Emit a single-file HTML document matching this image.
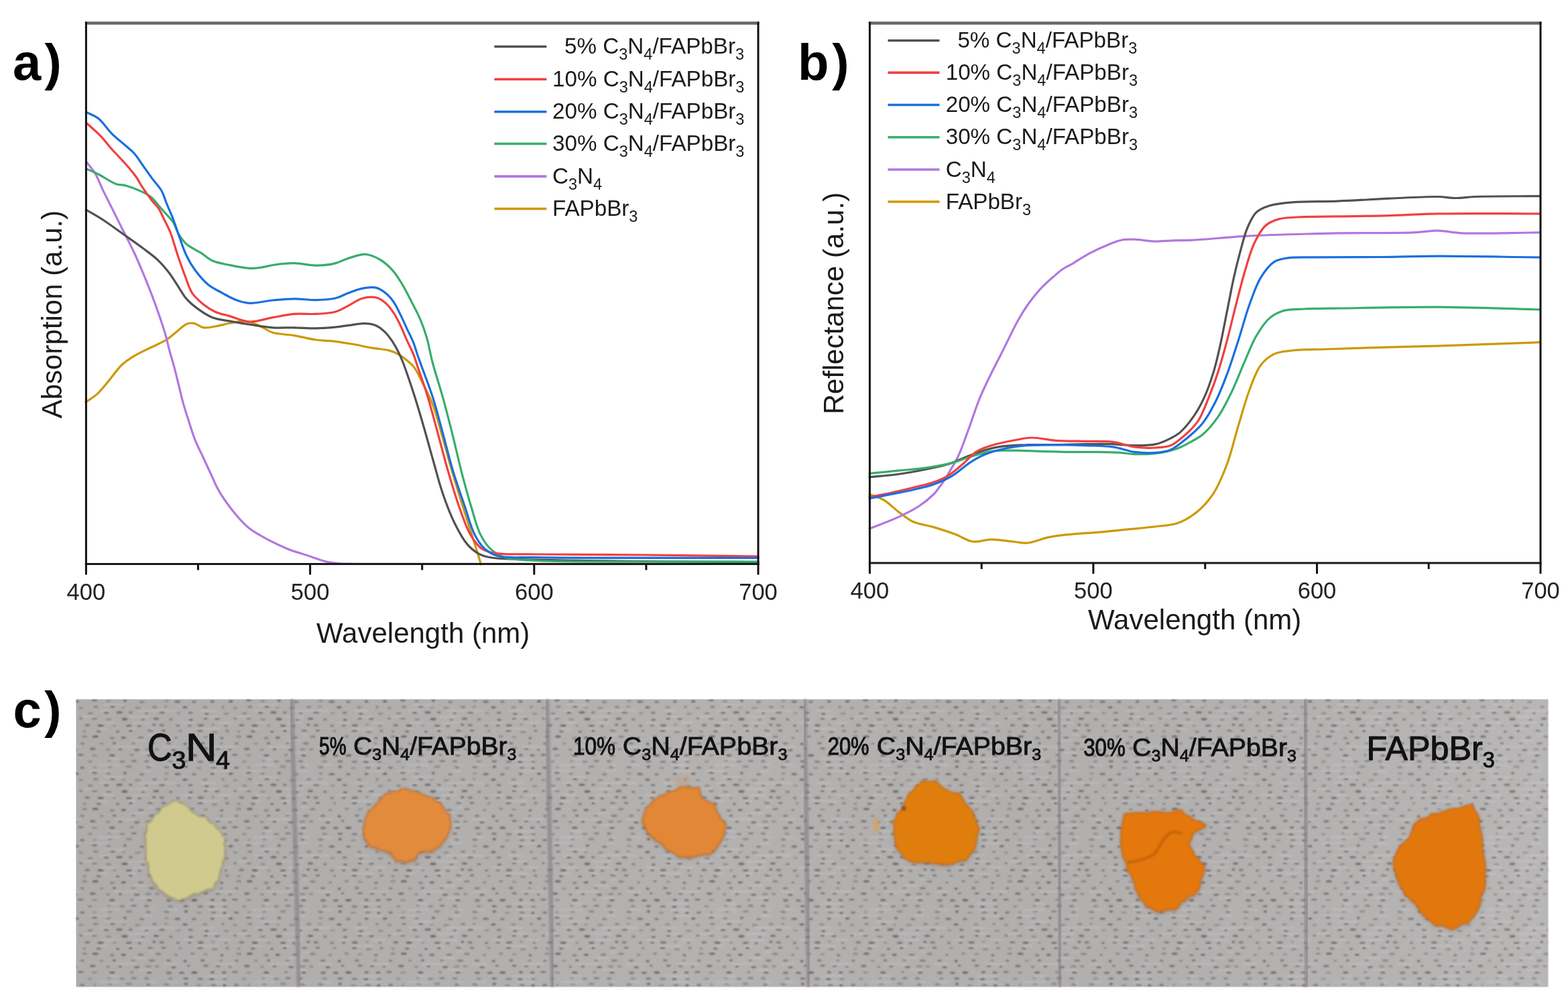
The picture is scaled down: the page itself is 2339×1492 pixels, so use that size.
<!DOCTYPE html>
<html><head><meta charset="utf-8"><title>Figure</title>
<style>html,body{margin:0;padding:0;background:#fff;overflow:hidden}svg{display:block}
text{font-family:"Liberation Sans",Arial,Helvetica,sans-serif}</style></head>
<body>
<svg width="2339" height="1492" viewBox="0 0 2339 1492">
<rect width="2339" height="1492" fill="#fff"/>
<text y="118.7" font-size="76" font-weight="bold" fill="#000"><tspan x="19">a</tspan><tspan x="66.6">)</tspan></text>
<text y="118.7" font-size="76" font-weight="bold" fill="#000"><tspan x="1190">b</tspan><tspan x="1241.3">)</tspan></text>
<text y="1085.2" font-size="76" font-weight="bold" fill="#000"><tspan x="19.5">c</tspan><tspan x="66.2">)</tspan></text>
<g fill="none" stroke-width="3.2" stroke-linejoin="round" stroke-linecap="round">
<path d="M128.0,600.0 C133.7,595.9 139.7,592.6 145.2,587.6 C151.2,582.1 156.5,575.0 162.3,568.1 C168.6,560.7 174.7,551.0 181.6,544.5 C187.7,538.8 194.0,534.8 200.9,530.6 C208.2,526.2 216.6,522.7 224.5,518.8 C232.4,514.9 241.3,511.3 248.1,507.0 C253.9,503.3 258.1,499.1 263.1,495.2 C268.1,491.3 273.3,485.4 278.2,483.4 C281.9,481.9 285.1,481.7 288.9,482.3 C293.6,483.0 298.6,488.0 303.9,488.8 C309.3,489.6 315.0,488.0 321.0,487.0 C327.8,485.9 335.3,483.6 342.5,482.3 C349.6,481.0 357.3,478.8 364.0,479.1 C370.1,479.4 375.7,481.4 381.1,483.4 C386.4,485.4 391.5,488.6 396.1,490.9 C400.0,492.8 402.1,494.9 406.8,496.3 C414.5,498.7 428.3,498.8 439.0,500.6 C449.8,502.4 460.7,505.5 471.2,507.0 C481.0,508.4 490.6,508.4 500.0,509.5 C509.1,510.6 517.9,511.9 526.8,513.5 C535.8,515.1 544.6,517.3 553.6,518.9 C562.5,520.5 573.1,520.9 580.4,522.9 C585.7,524.4 589.5,525.9 593.8,528.3 C598.4,530.8 603.1,534.3 607.2,537.7 C611.1,541.0 614.7,544.0 618.0,548.4 C622.0,553.7 624.8,560.3 628.6,567.9 C633.8,578.1 640.9,591.5 645.8,604.3 C651.0,617.8 654.3,632.1 658.7,647.2 C663.6,664.1 668.6,683.4 673.7,700.9 C678.6,717.7 683.6,734.0 688.7,750.2 C693.7,766.1 699.1,782.9 703.7,797.4 C707.6,809.7 711.9,823.6 714.4,831.7 C715.8,836.1 716.5,838.6 717.5,842.0" stroke="#CC9900"/>
<path d="M128.5,241.0 C132.9,246.8 137.8,251.9 141.8,258.5 C146.3,265.9 149.4,275.1 153.5,283.6 C157.8,292.4 162.6,301.8 166.9,310.4 C170.9,318.5 174.8,326.4 178.6,333.9 C182.1,340.9 185.2,347.0 188.7,354.0 C192.5,361.5 196.6,369.4 200.4,377.5 C204.4,386.1 208.1,394.8 212.1,404.3 C216.5,414.8 221.3,426.5 225.6,437.8 C229.9,449.1 234.2,461.0 238.0,472.0 C241.5,482.1 244.8,492.3 247.4,501.3 C249.5,508.8 250.7,515.0 252.6,522.2 C254.7,530.0 257.3,538.2 259.6,546.6 C262.0,555.6 264.3,565.2 266.6,574.5 C268.9,583.8 270.9,593.1 273.5,602.4 C276.1,611.7 279.2,621.1 282.2,630.2 C285.1,639.1 287.6,647.7 291.0,656.3 C294.5,665.1 299.2,674.1 303.1,682.5 C306.7,690.3 310.1,697.6 313.6,705.1 C317.1,712.6 320.3,720.7 324.0,727.7 C327.4,734.1 330.6,739.2 334.9,745.5 C340.2,753.1 347.2,762.6 353.7,770.0 C359.7,776.9 365.2,783.1 372.5,788.8 C380.6,795.1 391.2,800.6 400.8,805.7 C410.1,810.6 419.5,815.1 429.0,818.9 C438.3,822.6 447.8,825.2 457.2,828.3 C466.6,831.4 476.9,835.7 485.4,837.7 C492.2,839.3 497.4,839.9 504.2,840.5 C512.1,841.2 515.7,841.1 530.0,841.3 C598.8,842.4 930.7,841.3 1131.0,841.3" stroke="#B177DE"/>
<path d="M128.5,313.0 C136.9,318.0 145.0,322.4 153.6,328.0 C163.3,334.3 173.8,342.2 183.8,349.3 C193.8,356.4 204.7,363.9 213.8,370.8 C221.6,376.7 228.8,381.7 235.3,387.9 C241.6,393.9 247.3,400.7 252.4,407.3 C257.2,413.6 261.0,420.2 265.3,426.6 C269.6,433.0 273.2,440.2 278.2,445.9 C283.2,451.6 289.0,456.4 295.3,460.9 C301.9,465.7 309.0,470.7 316.8,473.7 C324.7,476.8 333.4,477.4 342.5,479.1 C352.6,481.0 364.0,482.9 374.7,484.5 C385.4,486.1 396.1,488.1 406.8,488.8 C417.5,489.5 428.3,488.6 439.0,488.8 C449.7,489.0 460.8,489.9 471.2,489.8 C481.1,489.7 491.3,488.9 500.0,488.1 C507.3,487.4 513.2,486.3 520.1,485.4 C527.5,484.5 535.8,482.6 542.9,482.7 C549.1,482.8 555.1,483.3 560.3,485.4 C565.3,487.4 569.7,491.1 573.7,494.8 C577.8,498.6 581.2,503.4 584.5,508.2 C587.9,513.2 591.0,518.9 593.8,524.3 C596.5,529.5 598.2,533.4 600.8,540.0 C605.1,550.7 610.9,568.1 615.8,582.9 C621.0,598.7 625.9,615.4 630.8,632.2 C635.9,649.7 640.8,668.1 645.8,685.8 C650.8,703.2 655.2,721.0 660.8,737.3 C666.0,752.4 671.5,767.2 678.0,780.2 C683.8,792.0 690.3,804.3 697.3,812.4 C702.7,818.6 708.4,823.1 714.4,826.3 C719.9,829.2 723.8,830.3 731.6,831.7 C746.7,834.4 768.6,834.1 800.0,835.0 C869.0,837.1 1020.7,837.7 1131.0,839.0" stroke="#515151"/>
<path d="M129.0,251.9 C134.9,254.6 140.3,256.8 146.8,260.0 C154.9,264.1 166.0,272.1 173.6,274.7 C178.7,276.4 182.1,275.5 187.0,276.7 C193.1,278.2 200.7,281.2 207.1,284.0 C213.2,286.7 219.5,289.4 224.6,293.4 C229.8,297.4 233.8,303.5 238.0,308.2 C241.7,312.3 245.0,316.1 248.4,320.0 C251.7,323.7 255.2,326.7 258.0,331.0 C261.3,336.1 263.0,343.4 266.4,349.0 C269.8,354.5 273.2,359.8 278.2,364.3 C283.9,369.4 292.9,372.9 299.6,377.2 C305.7,381.1 310.2,386.0 316.8,389.0 C324.3,392.4 333.6,393.6 342.5,395.5 C352.1,397.5 363.9,400.0 372.5,400.4 C379.0,400.7 384.0,399.9 389.7,399.1 C395.4,398.3 400.2,396.5 406.8,395.5 C415.8,394.2 428.3,392.6 439.0,392.7 C449.7,392.8 460.8,396.1 471.2,396.1 C481.1,396.1 491.7,394.9 500.0,392.9 C506.6,391.3 510.8,388.2 517.4,386.2 C525.6,383.7 536.9,379.0 545.6,379.5 C553.3,380.0 560.4,383.6 567.0,387.5 C573.9,391.5 580.3,397.4 585.8,403.6 C591.5,409.9 595.9,417.4 600.5,425.0 C605.3,433.0 609.6,441.9 614.0,450.5 C618.5,459.3 623.5,468.2 627.3,477.3 C631.0,486.1 633.9,494.5 636.7,504.2 C639.9,515.2 641.6,526.9 645.0,540.0 C649.2,556.1 655.7,575.3 660.8,593.6 C666.0,612.5 671.1,632.6 675.8,651.5 C680.3,669.7 684.1,687.3 688.7,705.1 C693.4,723.0 698.7,742.4 703.7,758.8 C708.0,772.8 711.2,786.7 716.6,797.4 C720.9,805.9 725.4,813.0 731.6,818.8 C737.6,824.4 744.1,828.7 753.0,831.7 C765.3,835.8 777.2,835.3 800.0,836.5 C860.4,839.7 1020.7,837.5 1131.0,838.0" stroke="#37AD6B"/>
<path d="M129.0,183.5 C136.3,190.2 144.6,197.1 150.8,203.6 C156.0,209.1 159.4,214.3 164.2,219.7 C169.2,225.4 175.2,231.4 180.3,237.0 C185.0,242.1 189.7,247.1 193.7,251.9 C197.2,256.1 200.0,259.5 203.1,264.0 C206.7,269.2 209.9,275.6 213.8,281.4 C217.9,287.6 223.0,294.7 227.2,300.0 C230.5,304.2 233.8,306.8 236.6,311.0 C239.7,315.7 241.9,321.3 244.7,327.0 C247.9,333.5 251.5,340.1 254.6,348.0 C258.4,357.8 261.6,370.7 265.3,381.5 C268.8,391.8 272.3,401.9 276.0,411.5 C279.5,420.5 281.8,430.0 286.7,437.3 C291.3,444.1 297.9,449.6 303.9,454.4 C309.4,458.8 314.8,462.4 321.0,465.2 C327.6,468.2 334.7,469.4 342.5,471.6 C351.7,474.2 362.1,479.5 372.5,480.0 C383.5,480.5 395.5,475.7 406.8,473.7 C417.7,471.8 428.2,469.3 439.0,468.4 C449.7,467.5 460.8,469.0 471.2,468.4 C481.1,467.9 491.4,467.7 500.0,465.3 C507.5,463.2 513.4,459.2 520.1,455.9 C526.8,452.5 533.3,447.2 540.2,445.2 C546.7,443.3 554.3,442.5 560.3,443.8 C565.8,445.0 570.6,448.3 575.0,451.9 C579.6,455.8 583.4,461.1 587.1,466.6 C591.1,472.6 594.6,479.8 597.9,486.7 C601.3,493.7 604.0,501.2 607.2,508.2 C610.3,515.0 613.8,521.4 616.6,528.3 C619.4,535.3 621.2,541.7 624.0,550.0 C627.8,561.2 632.8,575.1 637.2,589.3 C642.3,605.7 647.2,624.9 652.2,643.0 C657.2,661.4 661.9,680.2 667.2,698.7 C672.6,717.3 678.3,737.2 684.4,754.5 C689.8,769.9 694.9,785.9 701.6,797.4 C706.7,806.2 712.1,814.1 718.7,818.8 C724.4,822.8 729.6,823.8 738.0,825.3 C752.7,827.9 774.5,826.6 800.0,827.0 C840.9,827.7 905.8,827.5 960.0,828.0 C1016.1,828.5 1074.0,829.3 1131.0,830.0" stroke="#F14040"/>
<path d="M129.0,167.4 C134.9,170.5 141.1,172.3 146.8,176.8 C153.8,182.3 160.0,192.7 166.9,199.6 C173.4,206.0 181.0,211.7 187.0,217.0 C191.9,221.3 196.2,224.3 200.4,229.0 C205.2,234.4 209.3,241.6 213.8,247.9 C218.3,254.2 222.7,260.5 227.2,266.6 C231.6,272.5 237.0,277.7 240.6,284.0 C244.2,290.2 245.9,297.2 248.7,304.0 C251.7,311.2 255.0,318.2 258.0,326.0 C261.3,334.5 264.1,343.9 267.4,353.0 C270.8,362.4 274.0,372.8 278.2,381.5 C282.0,389.4 285.9,396.1 291.0,403.0 C296.5,410.4 303.2,418.6 310.3,424.4 C316.9,429.8 324.6,433.3 331.8,437.3 C338.9,441.2 346.1,445.5 353.2,448.0 C359.7,450.3 365.1,452.0 372.5,452.3 C382.3,452.8 395.5,449.1 406.8,448.0 C417.7,447.0 428.3,446.0 439.0,445.9 C449.7,445.8 460.8,447.8 471.2,447.6 C481.1,447.4 491.4,447.0 500.0,445.0 C507.4,443.2 513.4,439.5 520.1,437.1 C526.8,434.7 533.4,431.7 540.2,430.4 C546.8,429.1 554.3,427.8 560.3,429.1 C565.8,430.3 570.6,433.6 575.0,437.1 C579.6,440.7 583.5,445.3 587.1,450.5 C591.2,456.3 594.5,463.8 597.9,470.6 C601.2,477.3 604.1,484.1 607.2,490.8 C610.3,497.5 613.9,504.1 616.6,510.9 C619.2,517.5 621.2,524.8 623.3,531.0 C625.2,536.4 626.4,539.6 628.7,546.0 C632.8,557.4 640.6,577.2 645.8,593.6 C651.3,610.8 655.8,629.1 660.8,647.2 C665.8,665.6 670.3,684.9 675.8,703.0 C681.1,720.6 687.4,738.1 693.0,754.5 C698.1,769.5 702.1,785.9 708.0,797.4 C712.5,806.1 717.0,813.4 723.0,818.8 C728.6,823.8 733.8,827.1 742.3,829.5 C756.1,833.3 772.9,831.1 800.0,831.7 C865.0,833.0 1020.7,832.2 1131.0,832.5" stroke="#1A6FDF"/>
</g>
<line x1="126.9" y1="34.5" x2="1132.5" y2="34.5" stroke="#666" stroke-width="4.4"/>
<line x1="128.4" y1="32.5" x2="128.4" y2="843.0" stroke="#111" stroke-width="3"/>
<line x1="1131.0" y1="32.5" x2="1131.0" y2="843.0" stroke="#111" stroke-width="3"/>
<line x1="126.9" y1="841.5" x2="1132.5" y2="841.5" stroke="#1a1a1a" stroke-width="3"/>
<line x1="128.4" y1="841.5" x2="128.4" y2="857.5" stroke="#111" stroke-width="3"/>
<line x1="295.5" y1="841.5" x2="295.5" y2="850.5" stroke="#111" stroke-width="3"/>
<line x1="462.6" y1="841.5" x2="462.6" y2="857.5" stroke="#111" stroke-width="3"/>
<line x1="629.7" y1="841.5" x2="629.7" y2="850.5" stroke="#111" stroke-width="3"/>
<line x1="796.8" y1="841.5" x2="796.8" y2="857.5" stroke="#111" stroke-width="3"/>
<line x1="963.9" y1="841.5" x2="963.9" y2="850.5" stroke="#111" stroke-width="3"/>
<line x1="1131.0" y1="841.5" x2="1131.0" y2="857.5" stroke="#111" stroke-width="3"/>
<text x="128.4" y="895.0" font-size="34.5" text-anchor="middle" fill="#222">400</text>
<text x="462.6" y="895.0" font-size="34.5" text-anchor="middle" fill="#222">500</text>
<text x="796.8" y="895.0" font-size="34.5" text-anchor="middle" fill="#222">600</text>
<text x="1131.0" y="895.0" font-size="34.5" text-anchor="middle" fill="#222">700</text>
<text x="472.0" y="959.0" font-size="42" fill="#1a1a1a">Wavelength (nm)</text>
<text transform="translate(91.5,469.0) rotate(-90)" font-size="42" text-anchor="middle" fill="#1a1a1a">Absorption (a.u.)</text>
<line x1="737.4" y1="69.5" x2="815.3" y2="69.5" stroke="#515151" stroke-width="3.6"/>
<text x="842.1" y="80.1" font-size="33.2" fill="#1a1a1a"><tspan>5% C</tspan><tspan font-size="23.5" dy="9">3</tspan><tspan dy="-9">N</tspan><tspan font-size="23.5" dy="9">4</tspan><tspan dy="-9">/FAPbBr</tspan><tspan font-size="23.5" dy="9">3</tspan></text>
<line x1="737.4" y1="118.3" x2="815.3" y2="118.3" stroke="#F14040" stroke-width="3.6"/>
<text x="824.0" y="128.9" font-size="33.2" fill="#1a1a1a"><tspan>10% C</tspan><tspan font-size="23.5" dy="9">3</tspan><tspan dy="-9">N</tspan><tspan font-size="23.5" dy="9">4</tspan><tspan dy="-9">/FAPbBr</tspan><tspan font-size="23.5" dy="9">3</tspan></text>
<line x1="737.4" y1="166.7" x2="815.3" y2="166.7" stroke="#1A6FDF" stroke-width="3.6"/>
<text x="824.0" y="177.3" font-size="33.2" fill="#1a1a1a"><tspan>20% C</tspan><tspan font-size="23.5" dy="9">3</tspan><tspan dy="-9">N</tspan><tspan font-size="23.5" dy="9">4</tspan><tspan dy="-9">/FAPbBr</tspan><tspan font-size="23.5" dy="9">3</tspan></text>
<line x1="737.4" y1="214.5" x2="815.3" y2="214.5" stroke="#37AD6B" stroke-width="3.6"/>
<text x="824.0" y="225.1" font-size="33.2" fill="#1a1a1a"><tspan>30% C</tspan><tspan font-size="23.5" dy="9">3</tspan><tspan dy="-9">N</tspan><tspan font-size="23.5" dy="9">4</tspan><tspan dy="-9">/FAPbBr</tspan><tspan font-size="23.5" dy="9">3</tspan></text>
<line x1="737.4" y1="263.1" x2="815.3" y2="263.1" stroke="#B177DE" stroke-width="3.6"/>
<text x="824.0" y="273.7" font-size="33.2" fill="#1a1a1a"><tspan>C</tspan><tspan font-size="23.5" dy="9">3</tspan><tspan dy="-9">N</tspan><tspan font-size="23.5" dy="9">4</tspan></text>
<line x1="737.4" y1="311.5" x2="815.3" y2="311.5" stroke="#CC9900" stroke-width="3.6"/>
<text x="824.0" y="322.1" font-size="33.2" fill="#1a1a1a"><tspan>FAPbBr</tspan><tspan font-size="23.5" dy="9">3</tspan></text>
<g fill="none" stroke-width="3.2" stroke-linejoin="round" stroke-linecap="round">
<path d="M1297.0,737.4 C1304.1,740.3 1311.5,742.0 1318.4,746.0 C1325.9,750.4 1332.6,757.7 1339.8,763.1 C1346.8,768.4 1352.9,774.2 1361.1,778.0 C1370.4,782.3 1382.5,783.4 1393.2,786.6 C1403.9,789.8 1415.3,793.5 1425.3,797.3 C1434.4,800.7 1442.0,806.7 1450.9,808.0 C1459.8,809.3 1469.1,804.9 1478.7,804.8 C1489.0,804.7 1501.2,807.0 1510.8,808.0 C1518.6,808.8 1524.3,810.7 1532.1,810.1 C1541.8,809.3 1553.4,803.7 1564.2,801.6 C1574.8,799.5 1584.8,798.5 1596.3,797.3 C1609.5,795.9 1624.8,795.3 1639.0,794.1 C1653.3,792.8 1667.5,791.2 1681.8,789.8 C1696.0,788.4 1711.3,787.2 1724.5,785.5 C1736.0,784.0 1746.4,784.2 1756.6,780.5 C1767.2,776.7 1777.9,770.1 1786.8,762.7 C1795.8,755.2 1803.4,746.5 1810.3,735.9 C1818.3,723.6 1824.5,708.0 1830.4,692.3 C1837.0,674.8 1841.5,654.0 1847.2,635.3 C1852.7,617.1 1857.8,597.7 1863.9,581.7 C1869.1,568.1 1873.6,554.1 1880.7,544.8 C1886.4,537.3 1893.1,531.7 1900.8,528.1 C1908.7,524.4 1917.2,524.2 1927.6,523.0 C1941.7,521.4 1959.1,521.7 1977.9,521.0 C2001.9,520.1 2032.4,519.1 2060.0,518.3 C2088.0,517.5 2112.4,517.1 2144.8,516.1 C2188.2,514.8 2246.3,512.5 2297.0,510.7" stroke="#CC9900"/>
<path d="M1297.0,788.7 C1311.3,783.0 1326.7,777.7 1339.8,771.6 C1351.4,766.2 1362.5,760.7 1371.8,754.5 C1379.9,749.1 1388.4,741.8 1393.2,737.0 C1396.0,734.2 1396.9,732.6 1399.1,729.7 C1402.3,725.5 1407.1,719.0 1410.5,713.8 C1413.5,709.1 1415.8,704.7 1418.5,700.1 C1421.2,695.6 1424.1,691.2 1426.5,686.5 C1429.0,681.7 1431.1,676.9 1433.3,671.6 C1435.7,665.9 1437.8,659.5 1440.1,653.4 C1442.4,647.2 1444.7,640.9 1447.0,634.5 C1449.3,628.0 1451.5,621.1 1453.8,614.7 C1456.0,608.5 1458.2,602.3 1460.5,596.5 C1462.7,591.0 1465.0,585.9 1467.5,580.5 C1470.1,574.8 1472.8,569.1 1475.8,563.0 C1479.1,556.2 1483.5,547.4 1486.5,541.5 C1488.6,537.3 1489.9,535.0 1492.1,530.7 C1495.4,524.3 1500.1,514.6 1504.1,506.6 C1508.1,498.6 1512.0,490.1 1516.2,482.5 C1520.1,475.3 1524.0,468.4 1528.2,462.0 C1532.1,456.0 1536.0,450.6 1540.3,445.1 C1544.8,439.4 1549.7,433.5 1554.8,428.2 C1559.8,423.1 1565.2,418.3 1570.4,413.8 C1575.3,409.5 1579.8,405.2 1584.9,401.7 C1589.7,398.4 1594.4,396.6 1600.0,393.3 C1607.1,389.1 1615.5,383.2 1624.1,378.6 C1633.2,373.7 1644.5,368.6 1653.3,365.0 C1660.3,362.1 1666.1,359.5 1672.7,358.2 C1679.1,356.9 1685.1,357.0 1692.2,357.2 C1700.9,357.4 1711.6,359.8 1721.3,360.1 C1731.0,360.4 1740.7,359.1 1750.5,358.8 C1760.3,358.5 1767.8,358.8 1780.0,358.2 C1800.3,357.2 1832.2,353.7 1860.6,352.1 C1892.2,350.4 1935.4,349.4 1961.1,348.7 C1977.1,348.2 1983.8,348.1 2000.0,347.8 C2027.1,347.4 2082.1,348.0 2108.6,346.9 C2123.9,346.3 2132.7,344.1 2144.8,344.2 C2156.9,344.3 2165.5,347.1 2181.0,347.8 C2208.7,349.1 2258.3,347.2 2297.0,346.9" stroke="#B177DE"/>
<path d="M1297.0,711.8 C1311.3,710.4 1325.6,709.5 1339.8,707.5 C1354.1,705.5 1369.3,702.7 1382.5,700.0 C1394.0,697.6 1405.1,695.5 1414.6,692.5 C1422.6,690.0 1428.9,686.9 1436.0,684.0 C1443.1,681.2 1449.4,678.0 1457.3,675.4 C1466.8,672.2 1477.8,668.8 1489.4,666.9 C1502.5,664.7 1517.8,664.2 1532.1,663.7 C1546.3,663.2 1560.6,663.9 1574.9,663.7 C1589.1,663.5 1603.4,662.8 1617.6,662.6 C1631.9,662.4 1647.2,662.2 1660.4,662.6 C1671.9,663.0 1681.8,664.7 1692.5,664.7 C1703.2,664.7 1715.1,664.7 1724.5,662.6 C1732.5,660.8 1739.6,657.3 1745.9,654.1 C1751.2,651.4 1755.2,649.5 1760.0,645.4 C1766.5,639.8 1774.1,630.5 1780.1,621.9 C1786.5,612.8 1792.0,602.6 1796.9,591.8 C1802.1,580.3 1806.4,567.6 1810.3,554.9 C1814.3,541.9 1817.1,528.9 1820.3,514.7 C1823.8,498.9 1827.0,481.2 1830.4,464.4 C1833.8,447.6 1837.0,429.9 1840.5,414.1 C1843.7,399.9 1847.0,386.7 1850.5,373.9 C1853.7,362.2 1856.3,350.3 1860.6,340.3 C1864.4,331.6 1868.0,322.5 1874.0,316.9 C1879.4,311.7 1886.3,309.3 1894.1,306.8 C1903.6,303.8 1914.5,302.9 1927.6,301.8 C1946.1,300.2 1971.5,301.0 1994.7,300.1 C2019.7,299.2 2047.0,297.3 2072.4,296.2 C2097.0,295.1 2126.5,293.2 2144.8,293.5 C2156.0,293.7 2162.9,295.5 2171.9,295.5 C2181.0,295.5 2187.2,294.0 2199.1,293.5 C2221.6,292.6 2264.4,292.9 2297.0,292.6" stroke="#515151"/>
<path d="M1297.0,706.4 C1311.3,705.0 1325.5,703.6 1339.8,702.2 C1354.0,700.8 1368.7,699.9 1382.5,697.9 C1395.7,696.0 1409.6,693.4 1421.0,690.4 C1430.5,687.9 1437.5,684.5 1446.6,681.8 C1456.6,678.8 1467.9,674.9 1478.7,673.3 C1489.3,671.7 1499.3,672.2 1510.8,672.2 C1524.0,672.1 1539.3,672.9 1553.5,673.3 C1567.8,673.7 1582.0,674.2 1596.3,674.4 C1610.5,674.6 1625.8,674.2 1639.0,674.4 C1650.5,674.6 1661.5,674.8 1671.1,675.4 C1679.0,675.9 1684.6,677.3 1692.5,677.6 C1702.1,677.9 1713.9,677.9 1724.5,676.5 C1735.3,675.1 1747.2,672.4 1756.6,669.0 C1764.6,666.1 1771.5,661.9 1778.0,658.3 C1783.7,655.2 1788.2,653.3 1793.5,648.8 C1801.0,642.5 1810.0,632.0 1817.0,621.9 C1824.6,611.0 1830.7,598.3 1837.1,585.1 C1844.2,570.5 1850.7,552.8 1857.2,538.1 C1863.0,525.0 1867.5,512.3 1874.0,501.3 C1879.9,491.3 1886.6,480.8 1894.1,474.4 C1900.3,469.1 1906.6,466.0 1914.2,463.7 C1923.0,461.1 1932.8,461.6 1944.4,461.0 C1960.1,460.2 1977.1,460.3 2000.0,460.0 C2036.9,459.4 2095.9,457.9 2144.8,458.2 C2194.9,458.5 2246.3,460.6 2297.0,461.8" stroke="#37AD6B"/>
<path d="M1297.0,741.7 C1307.7,739.6 1318.4,737.6 1329.1,735.3 C1339.8,733.0 1350.4,730.5 1361.1,727.8 C1371.8,725.1 1383.7,722.7 1393.2,719.3 C1401.2,716.5 1407.7,713.8 1414.6,709.6 C1422.0,705.0 1429.0,698.5 1436.0,692.5 C1443.2,686.4 1449.7,678.0 1457.3,673.3 C1464.1,669.1 1470.7,667.2 1478.7,664.7 C1488.2,661.7 1500.4,659.3 1510.8,657.3 C1520.4,655.5 1528.7,653.2 1538.6,653.0 C1549.9,652.8 1562.3,656.4 1574.9,657.3 C1588.5,658.3 1603.4,658.0 1617.6,658.3 C1631.9,658.7 1647.2,657.7 1660.4,659.4 C1671.9,660.9 1681.7,665.5 1692.5,666.9 C1703.1,668.3 1714.9,668.6 1724.5,668.0 C1732.4,667.5 1739.7,667.1 1745.9,664.7 C1751.3,662.6 1754.8,659.7 1760.0,655.5 C1767.8,649.2 1779.6,639.0 1786.8,628.6 C1794.2,617.9 1798.5,604.2 1803.6,591.8 C1808.6,579.6 1812.8,568.0 1817.0,554.9 C1821.7,540.3 1826.1,524.2 1830.4,508.0 C1835.0,490.7 1839.3,471.9 1843.8,454.3 C1848.2,437.2 1852.5,419.8 1857.2,404.0 C1861.5,389.8 1865.1,375.6 1870.6,363.8 C1875.4,353.6 1880.5,343.3 1887.4,337.0 C1893.2,331.7 1899.5,329.2 1907.5,326.9 C1917.7,324.0 1931.1,324.3 1944.4,323.6 C1959.9,322.8 1976.1,323.2 1994.7,322.9 C2017.8,322.5 2047.0,322.3 2072.4,321.6 C2097.0,320.9 2116.2,319.4 2144.8,318.9 C2186.2,318.1 2246.3,318.9 2297.0,318.9" stroke="#F14040"/>
<path d="M1297.0,743.8 C1307.7,741.7 1318.4,739.5 1329.1,737.4 C1339.8,735.3 1350.5,733.5 1361.1,731.0 C1371.8,728.5 1383.0,726.2 1393.2,722.5 C1403.0,719.0 1412.2,714.9 1421.0,709.6 C1430.0,704.2 1438.3,695.8 1446.6,690.4 C1453.9,685.7 1459.9,682.0 1468.0,678.6 C1477.4,674.6 1489.3,671.3 1500.1,669.0 C1510.7,666.7 1520.6,665.6 1532.1,664.7 C1545.3,663.7 1560.6,663.7 1574.9,663.7 C1589.1,663.7 1603.4,664.2 1617.6,664.7 C1631.9,665.2 1647.2,665.0 1660.4,666.9 C1671.9,668.5 1681.7,673.0 1692.5,674.4 C1703.1,675.8 1714.9,676.2 1724.5,675.4 C1732.4,674.8 1739.7,673.7 1745.9,671.2 C1751.3,669.0 1754.5,666.4 1760.0,662.2 C1769.0,655.3 1784.4,643.1 1793.5,632.0 C1802.0,621.7 1807.6,610.4 1813.6,598.5 C1820.0,585.9 1825.0,572.5 1830.4,558.2 C1836.3,542.5 1841.7,525.0 1847.2,508.0 C1852.9,490.4 1857.9,470.8 1863.9,454.3 C1869.2,439.8 1873.8,425.3 1880.7,414.1 C1886.5,404.7 1893.3,395.4 1900.8,390.6 C1907.0,386.7 1913.0,386.1 1920.9,384.9 C1931.9,383.2 1944.7,384.1 1961.1,383.9 C1986.8,383.5 2028.3,383.8 2060.0,383.5 C2089.4,383.2 2112.4,382.3 2144.8,382.2 C2188.2,382.1 2246.3,383.4 2297.0,384.0" stroke="#1A6FDF"/>
</g>
<line x1="1295.9" y1="34.5" x2="2299.5" y2="34.5" stroke="#666" stroke-width="4.4"/>
<line x1="1297.4" y1="32.5" x2="1297.4" y2="841.5" stroke="#111" stroke-width="3"/>
<line x1="2298.0" y1="32.5" x2="2298.0" y2="841.5" stroke="#111" stroke-width="3"/>
<line x1="1295.9" y1="840.0" x2="2299.5" y2="840.0" stroke="#1a1a1a" stroke-width="3"/>
<line x1="1297.4" y1="840.0" x2="1297.4" y2="856.0" stroke="#111" stroke-width="3"/>
<line x1="1464.2" y1="840.0" x2="1464.2" y2="849.0" stroke="#111" stroke-width="3"/>
<line x1="1630.9" y1="840.0" x2="1630.9" y2="856.0" stroke="#111" stroke-width="3"/>
<line x1="1797.7" y1="840.0" x2="1797.7" y2="849.0" stroke="#111" stroke-width="3"/>
<line x1="1964.5" y1="840.0" x2="1964.5" y2="856.0" stroke="#111" stroke-width="3"/>
<line x1="2131.2" y1="840.0" x2="2131.2" y2="849.0" stroke="#111" stroke-width="3"/>
<line x1="2298.0" y1="840.0" x2="2298.0" y2="856.0" stroke="#111" stroke-width="3"/>
<text x="1297.4" y="893.0" font-size="34.5" text-anchor="middle" fill="#222">400</text>
<text x="1630.9" y="893.0" font-size="34.5" text-anchor="middle" fill="#222">500</text>
<text x="1964.5" y="893.0" font-size="34.5" text-anchor="middle" fill="#222">600</text>
<text x="2298.0" y="893.0" font-size="34.5" text-anchor="middle" fill="#222">700</text>
<text x="1623.0" y="938.5" font-size="42" fill="#1a1a1a">Wavelength (nm)</text>
<text transform="translate(1258.3,452.6) rotate(-90)" font-size="42" text-anchor="middle" fill="#1a1a1a">Reflectance (a.u.)</text>
<line x1="1324.5" y1="60.5" x2="1401.5" y2="60.5" stroke="#515151" stroke-width="3.6"/>
<text x="1428.4" y="71.1" font-size="33.2" fill="#1a1a1a"><tspan>5% C</tspan><tspan font-size="23.5" dy="9">3</tspan><tspan dy="-9">N</tspan><tspan font-size="23.5" dy="9">4</tspan><tspan dy="-9">/FAPbBr</tspan><tspan font-size="23.5" dy="9">3</tspan></text>
<line x1="1324.5" y1="108.4" x2="1401.5" y2="108.4" stroke="#F14040" stroke-width="3.6"/>
<text x="1410.7" y="119.0" font-size="33.2" fill="#1a1a1a"><tspan>10% C</tspan><tspan font-size="23.5" dy="9">3</tspan><tspan dy="-9">N</tspan><tspan font-size="23.5" dy="9">4</tspan><tspan dy="-9">/FAPbBr</tspan><tspan font-size="23.5" dy="9">3</tspan></text>
<line x1="1324.5" y1="156.5" x2="1401.5" y2="156.5" stroke="#1A6FDF" stroke-width="3.6"/>
<text x="1410.7" y="167.1" font-size="33.2" fill="#1a1a1a"><tspan>20% C</tspan><tspan font-size="23.5" dy="9">3</tspan><tspan dy="-9">N</tspan><tspan font-size="23.5" dy="9">4</tspan><tspan dy="-9">/FAPbBr</tspan><tspan font-size="23.5" dy="9">3</tspan></text>
<line x1="1324.5" y1="204.7" x2="1401.5" y2="204.7" stroke="#37AD6B" stroke-width="3.6"/>
<text x="1410.7" y="215.3" font-size="33.2" fill="#1a1a1a"><tspan>30% C</tspan><tspan font-size="23.5" dy="9">3</tspan><tspan dy="-9">N</tspan><tspan font-size="23.5" dy="9">4</tspan><tspan dy="-9">/FAPbBr</tspan><tspan font-size="23.5" dy="9">3</tspan></text>
<line x1="1324.5" y1="253.0" x2="1401.5" y2="253.0" stroke="#B177DE" stroke-width="3.6"/>
<text x="1410.7" y="263.6" font-size="33.2" fill="#1a1a1a"><tspan>C</tspan><tspan font-size="23.5" dy="9">3</tspan><tspan dy="-9">N</tspan><tspan font-size="23.5" dy="9">4</tspan></text>
<line x1="1324.5" y1="301.0" x2="1401.5" y2="301.0" stroke="#CC9900" stroke-width="3.6"/>
<text x="1410.7" y="311.6" font-size="33.2" fill="#1a1a1a"><tspan>FAPbBr</tspan><tspan font-size="23.5" dy="9">3</tspan></text>
<defs>
<pattern id="mesh" x="0" y="0" width="230" height="108" patternUnits="userSpaceOnUse"><g fill="#5a5656"><ellipse cx="11.3" cy="2.0" rx="3.6" ry="1.8" fill-opacity="0.56"/><ellipse cx="11.3" cy="110.0" rx="3.6" ry="1.8" fill-opacity="0.56"/><ellipse cx="35.5" cy="2.7" rx="2.7" ry="1.5" fill-opacity="0.63"/><ellipse cx="35.5" cy="110.7" rx="2.7" ry="1.5" fill-opacity="0.63"/><ellipse cx="52.9" cy="2.5" rx="3.0" ry="1.3" fill-opacity="0.71"/><ellipse cx="52.9" cy="110.5" rx="3.0" ry="1.3" fill-opacity="0.71"/><ellipse cx="69.4" cy="2.3" rx="4.7" ry="1.8" fill-opacity="0.64"/><ellipse cx="69.4" cy="110.3" rx="4.7" ry="1.8" fill-opacity="0.64"/><ellipse cx="87.6" cy="1.3" rx="2.3" ry="1.5" fill-opacity="0.38"/><ellipse cx="87.6" cy="109.3" rx="2.3" ry="1.5" fill-opacity="0.38"/><ellipse cx="107.0" cy="2.8" rx="2.3" ry="1.5" fill-opacity="0.55"/><ellipse cx="107.0" cy="110.8" rx="2.3" ry="1.5" fill-opacity="0.55"/><ellipse cx="130.3" cy="1.9" rx="3.9" ry="1.5" fill-opacity="0.65"/><ellipse cx="130.3" cy="109.9" rx="3.9" ry="1.5" fill-opacity="0.65"/><ellipse cx="150.2" cy="2.5" rx="4.7" ry="1.8" fill-opacity="0.73"/><ellipse cx="150.2" cy="110.5" rx="4.7" ry="1.8" fill-opacity="0.73"/><ellipse cx="170.6" cy="2.6" rx="2.8" ry="1.4" fill-opacity="0.38"/><ellipse cx="170.6" cy="110.6" rx="2.8" ry="1.4" fill-opacity="0.38"/><ellipse cx="192.2" cy="2.8" rx="4.4" ry="1.4" fill-opacity="0.78"/><ellipse cx="192.2" cy="110.8" rx="4.4" ry="1.4" fill-opacity="0.78"/><ellipse cx="208.2" cy="3.2" rx="2.8" ry="1.7" fill-opacity="0.56"/><ellipse cx="208.2" cy="111.2" rx="2.8" ry="1.7" fill-opacity="0.56"/><ellipse cx="229.8" cy="1.4" rx="2.4" ry="1.6" fill-opacity="0.70"/><ellipse cx="229.8" cy="109.4" rx="2.4" ry="1.6" fill-opacity="0.70"/><ellipse cx="-0.2" cy="1.4" rx="2.4" ry="1.6" fill-opacity="0.70"/><ellipse cx="-0.2" cy="109.4" rx="2.4" ry="1.6" fill-opacity="0.70"/><rect x="63.1" y="6.5" width="34.1" height="1.8" fill="#fff" fill-opacity="0.16"/><rect x="147.6" y="6.5" width="12.9" height="1.8" fill="#fff" fill-opacity="0.16"/><rect x="190.4" y="6.5" width="12.5" height="1.8" fill="#fff" fill-opacity="0.16"/><rect x="225.3" y="6.5" width="29.9" height="1.8" fill="#fff" fill-opacity="0.16"/><ellipse cx="14.0" cy="10.1" rx="3.4" ry="1.3" fill-opacity="0.68"/><ellipse cx="39.0" cy="10.4" rx="2.5" ry="1.5" fill-opacity="0.45"/><ellipse cx="68.6" cy="10.3" rx="4.3" ry="1.4" fill-opacity="0.75"/><ellipse cx="90.1" cy="12.2" rx="4.4" ry="1.6" fill-opacity="0.40"/><ellipse cx="109.1" cy="10.5" rx="2.9" ry="1.7" fill-opacity="0.50"/><ellipse cx="126.1" cy="11.2" rx="2.5" ry="1.5" fill-opacity="0.46"/><ellipse cx="147.3" cy="11.2" rx="3.4" ry="1.8" fill-opacity="0.57"/><ellipse cx="175.5" cy="11.8" rx="2.7" ry="1.3" fill-opacity="0.76"/><ellipse cx="194.9" cy="10.3" rx="2.7" ry="1.6" fill-opacity="0.77"/><ellipse cx="224.3" cy="10.0" rx="4.5" ry="1.6" fill-opacity="0.54"/><ellipse cx="-5.7" cy="10.0" rx="4.5" ry="1.6" fill-opacity="0.54"/><rect x="220.7" y="15.5" width="16.0" height="1.8" fill="#fff" fill-opacity="0.16"/><ellipse cx="6.4" cy="19.2" rx="4.3" ry="1.6" fill-opacity="0.48"/><ellipse cx="32.5" cy="20.8" rx="2.4" ry="1.3" fill-opacity="0.60"/><ellipse cx="57.1" cy="18.8" rx="3.0" ry="1.8" fill-opacity="0.44"/><ellipse cx="76.9" cy="19.7" rx="3.4" ry="1.2" fill-opacity="0.43"/><ellipse cx="100.9" cy="21.2" rx="2.6" ry="1.4" fill-opacity="0.75"/><ellipse cx="126.1" cy="18.9" rx="4.0" ry="1.6" fill-opacity="0.41"/><ellipse cx="142.3" cy="18.9" rx="4.5" ry="1.6" fill-opacity="0.78"/><ellipse cx="167.2" cy="21.2" rx="3.5" ry="1.6" fill-opacity="0.49"/><ellipse cx="184.3" cy="20.6" rx="3.6" ry="1.6" fill-opacity="0.76"/><ellipse cx="210.1" cy="20.4" rx="4.2" ry="1.7" fill-opacity="0.51"/><rect x="197.8" y="24.5" width="20.4" height="1.8" fill="#fff" fill-opacity="0.16"/><ellipse cx="21.6" cy="29.2" rx="3.7" ry="1.6" fill-opacity="0.52"/><ellipse cx="46.1" cy="29.9" rx="2.5" ry="1.6" fill-opacity="0.80"/><ellipse cx="72.3" cy="28.9" rx="3.2" ry="1.6" fill-opacity="0.61"/><ellipse cx="100.0" cy="29.2" rx="2.5" ry="1.7" fill-opacity="0.36"/><ellipse cx="122.8" cy="29.3" rx="2.8" ry="1.6" fill-opacity="0.57"/><ellipse cx="151.7" cy="29.4" rx="2.9" ry="1.2" fill-opacity="0.49"/><ellipse cx="170.5" cy="28.9" rx="2.7" ry="1.7" fill-opacity="0.65"/><ellipse cx="199.0" cy="28.8" rx="3.1" ry="1.6" fill-opacity="0.44"/><ellipse cx="226.3" cy="29.2" rx="4.5" ry="1.7" fill-opacity="0.52"/><ellipse cx="-3.7" cy="29.2" rx="4.5" ry="1.7" fill-opacity="0.52"/><rect x="14.0" y="33.5" width="22.4" height="1.8" fill="#fff" fill-opacity="0.16"/><rect x="89.9" y="33.5" width="31.2" height="1.8" fill="#fff" fill-opacity="0.16"/><rect x="169.6" y="33.5" width="33.8" height="1.8" fill="#fff" fill-opacity="0.16"/><ellipse cx="4.2" cy="37.8" rx="3.4" ry="1.4" fill-opacity="0.45"/><ellipse cx="234.2" cy="37.8" rx="3.4" ry="1.4" fill-opacity="0.45"/><ellipse cx="29.0" cy="39.2" rx="3.5" ry="1.4" fill-opacity="0.73"/><ellipse cx="51.3" cy="36.9" rx="2.4" ry="1.2" fill-opacity="0.74"/><ellipse cx="77.2" cy="36.8" rx="3.7" ry="1.4" fill-opacity="0.71"/><ellipse cx="95.1" cy="37.4" rx="3.4" ry="1.2" fill-opacity="0.72"/><ellipse cx="113.1" cy="38.3" rx="2.4" ry="1.6" fill-opacity="0.55"/><ellipse cx="138.3" cy="37.3" rx="4.3" ry="1.8" fill-opacity="0.66"/><ellipse cx="160.9" cy="38.5" rx="2.7" ry="1.2" fill-opacity="0.56"/><ellipse cx="179.4" cy="38.0" rx="2.9" ry="1.4" fill-opacity="0.66"/><ellipse cx="204.1" cy="39.0" rx="4.1" ry="1.4" fill-opacity="0.71"/><ellipse cx="221.3" cy="37.9" rx="4.6" ry="1.6" fill-opacity="0.41"/><rect x="207.5" y="42.5" width="19.4" height="1.8" fill="#fff" fill-opacity="0.16"/><ellipse cx="22.0" cy="47.4" rx="4.2" ry="1.8" fill-opacity="0.56"/><ellipse cx="40.9" cy="47.5" rx="4.1" ry="1.7" fill-opacity="0.64"/><ellipse cx="59.8" cy="47.1" rx="4.5" ry="1.8" fill-opacity="0.79"/><ellipse cx="86.9" cy="46.6" rx="3.1" ry="1.7" fill-opacity="0.74"/><ellipse cx="104.1" cy="47.0" rx="3.4" ry="1.5" fill-opacity="0.70"/><ellipse cx="120.5" cy="46.2" rx="4.3" ry="1.2" fill-opacity="0.71"/><ellipse cx="141.2" cy="47.0" rx="4.2" ry="1.3" fill-opacity="0.42"/><ellipse cx="167.3" cy="47.0" rx="4.3" ry="1.6" fill-opacity="0.78"/><ellipse cx="196.6" cy="46.5" rx="2.5" ry="1.3" fill-opacity="0.59"/><ellipse cx="222.8" cy="47.1" rx="3.8" ry="1.5" fill-opacity="0.73"/><rect x="75.3" y="51.5" width="31.1" height="1.8" fill="#fff" fill-opacity="0.16"/><rect x="162.5" y="51.5" width="15.2" height="1.8" fill="#fff" fill-opacity="0.16"/><ellipse cx="24.2" cy="56.1" rx="3.6" ry="1.5" fill-opacity="0.44"/><ellipse cx="47.3" cy="56.0" rx="3.8" ry="1.2" fill-opacity="0.79"/><ellipse cx="68.9" cy="56.5" rx="4.3" ry="1.5" fill-opacity="0.57"/><ellipse cx="85.8" cy="57.0" rx="3.6" ry="1.4" fill-opacity="0.78"/><ellipse cx="105.6" cy="56.8" rx="3.4" ry="1.3" fill-opacity="0.55"/><ellipse cx="134.2" cy="56.3" rx="3.4" ry="1.4" fill-opacity="0.44"/><ellipse cx="163.1" cy="55.3" rx="2.6" ry="1.7" fill-opacity="0.36"/><ellipse cx="182.3" cy="56.3" rx="4.0" ry="1.4" fill-opacity="0.51"/><ellipse cx="199.8" cy="55.4" rx="4.1" ry="1.3" fill-opacity="0.58"/><ellipse cx="218.5" cy="55.8" rx="3.6" ry="1.5" fill-opacity="0.52"/><rect x="19.9" y="60.5" width="15.1" height="1.8" fill="#fff" fill-opacity="0.16"/><rect x="80.3" y="60.5" width="26.0" height="1.8" fill="#fff" fill-opacity="0.16"/><rect x="147.4" y="60.5" width="31.3" height="1.8" fill="#fff" fill-opacity="0.16"/><rect x="223.2" y="60.5" width="31.4" height="1.8" fill="#fff" fill-opacity="0.16"/><ellipse cx="18.5" cy="64.6" rx="4.3" ry="1.7" fill-opacity="0.49"/><ellipse cx="47.4" cy="64.1" rx="2.8" ry="1.8" fill-opacity="0.75"/><ellipse cx="66.8" cy="65.8" rx="4.1" ry="1.4" fill-opacity="0.39"/><ellipse cx="88.7" cy="65.4" rx="4.2" ry="1.3" fill-opacity="0.53"/><ellipse cx="104.9" cy="66.1" rx="2.8" ry="1.6" fill-opacity="0.76"/><ellipse cx="122.6" cy="65.4" rx="3.5" ry="1.7" fill-opacity="0.58"/><ellipse cx="141.2" cy="65.1" rx="2.4" ry="1.3" fill-opacity="0.37"/><ellipse cx="164.4" cy="64.3" rx="3.7" ry="1.3" fill-opacity="0.43"/><ellipse cx="192.2" cy="63.9" rx="4.7" ry="1.8" fill-opacity="0.39"/><ellipse cx="221.5" cy="64.9" rx="3.4" ry="1.7" fill-opacity="0.50"/><rect x="87.5" y="69.5" width="25.0" height="1.8" fill="#fff" fill-opacity="0.16"/><rect x="133.1" y="69.5" width="27.5" height="1.8" fill="#fff" fill-opacity="0.16"/><rect x="214.4" y="69.5" width="14.5" height="1.8" fill="#fff" fill-opacity="0.16"/><ellipse cx="18.5" cy="74.0" rx="3.3" ry="1.3" fill-opacity="0.42"/><ellipse cx="34.7" cy="74.9" rx="4.5" ry="1.7" fill-opacity="0.67"/><ellipse cx="59.5" cy="75.2" rx="3.3" ry="1.6" fill-opacity="0.58"/><ellipse cx="86.8" cy="74.7" rx="2.9" ry="1.7" fill-opacity="0.68"/><ellipse cx="114.2" cy="74.5" rx="3.3" ry="1.7" fill-opacity="0.75"/><ellipse cx="140.9" cy="73.0" rx="4.2" ry="1.4" fill-opacity="0.68"/><ellipse cx="161.7" cy="74.3" rx="3.4" ry="1.2" fill-opacity="0.51"/><ellipse cx="186.4" cy="73.6" rx="2.8" ry="1.8" fill-opacity="0.65"/><ellipse cx="211.7" cy="75.2" rx="3.7" ry="1.5" fill-opacity="0.53"/><rect x="155.3" y="78.5" width="29.0" height="1.8" fill="#fff" fill-opacity="0.16"/><ellipse cx="0.6" cy="82.8" rx="3.8" ry="1.6" fill-opacity="0.47"/><ellipse cx="230.6" cy="82.8" rx="3.8" ry="1.6" fill-opacity="0.47"/><ellipse cx="17.3" cy="82.4" rx="2.7" ry="1.4" fill-opacity="0.39"/><ellipse cx="46.0" cy="83.2" rx="3.6" ry="1.5" fill-opacity="0.79"/><ellipse cx="75.9" cy="83.2" rx="3.8" ry="1.7" fill-opacity="0.38"/><ellipse cx="102.5" cy="82.9" rx="2.4" ry="1.8" fill-opacity="0.42"/><ellipse cx="120.9" cy="84.1" rx="3.5" ry="1.6" fill-opacity="0.38"/><ellipse cx="142.8" cy="82.5" rx="3.6" ry="1.6" fill-opacity="0.51"/><ellipse cx="167.9" cy="82.5" rx="3.7" ry="1.4" fill-opacity="0.67"/><ellipse cx="184.1" cy="83.6" rx="2.9" ry="1.2" fill-opacity="0.42"/><ellipse cx="205.6" cy="84.2" rx="4.5" ry="1.6" fill-opacity="0.37"/><rect x="-1.6" y="87.5" width="32.6" height="1.8" fill="#fff" fill-opacity="0.16"/><rect x="68.2" y="87.5" width="21.9" height="1.8" fill="#fff" fill-opacity="0.16"/><rect x="149.1" y="87.5" width="16.1" height="1.8" fill="#fff" fill-opacity="0.16"/><rect x="206.1" y="87.5" width="33.4" height="1.8" fill="#fff" fill-opacity="0.16"/><ellipse cx="11.7" cy="91.1" rx="4.7" ry="1.7" fill-opacity="0.62"/><ellipse cx="36.4" cy="92.1" rx="3.4" ry="1.3" fill-opacity="0.37"/><ellipse cx="54.2" cy="91.4" rx="3.4" ry="1.6" fill-opacity="0.55"/><ellipse cx="78.3" cy="93.2" rx="3.3" ry="1.7" fill-opacity="0.59"/><ellipse cx="107.7" cy="92.9" rx="4.1" ry="1.3" fill-opacity="0.40"/><ellipse cx="134.7" cy="92.4" rx="3.8" ry="1.4" fill-opacity="0.47"/><ellipse cx="158.6" cy="91.3" rx="3.7" ry="1.6" fill-opacity="0.69"/><ellipse cx="178.1" cy="90.9" rx="4.7" ry="1.7" fill-opacity="0.75"/><ellipse cx="194.9" cy="91.0" rx="2.9" ry="1.5" fill-opacity="0.63"/><ellipse cx="218.5" cy="92.1" rx="2.4" ry="1.3" fill-opacity="0.65"/><rect x="73.3" y="96.5" width="22.0" height="1.8" fill="#fff" fill-opacity="0.16"/><rect x="123.7" y="96.5" width="18.6" height="1.8" fill="#fff" fill-opacity="0.16"/><rect x="192.1" y="96.5" width="31.0" height="1.8" fill="#fff" fill-opacity="0.16"/><ellipse cx="3.0" cy="100.3" rx="4.3" ry="1.6" fill-opacity="0.70"/><ellipse cx="233.0" cy="100.3" rx="4.3" ry="1.6" fill-opacity="0.70"/><ellipse cx="24.9" cy="101.4" rx="2.9" ry="1.7" fill-opacity="0.52"/><ellipse cx="54.8" cy="102.0" rx="3.1" ry="1.5" fill-opacity="0.69"/><ellipse cx="76.8" cy="100.0" rx="3.2" ry="1.3" fill-opacity="0.74"/><ellipse cx="93.9" cy="100.5" rx="3.7" ry="1.5" fill-opacity="0.66"/><ellipse cx="120.8" cy="100.0" rx="2.4" ry="1.3" fill-opacity="0.65"/><ellipse cx="141.0" cy="100.1" rx="4.1" ry="1.6" fill-opacity="0.48"/><ellipse cx="162.1" cy="101.5" rx="4.1" ry="1.4" fill-opacity="0.40"/><ellipse cx="186.0" cy="100.9" rx="4.5" ry="1.8" fill-opacity="0.76"/><ellipse cx="213.3" cy="102.0" rx="3.0" ry="1.4" fill-opacity="0.53"/><rect x="42.1" y="105.5" width="19.0" height="1.8" fill="#fff" fill-opacity="0.16"/><rect x="95.7" y="105.5" width="19.1" height="1.8" fill="#fff" fill-opacity="0.16"/><rect x="150.6" y="105.5" width="19.7" height="1.8" fill="#fff" fill-opacity="0.16"/><rect x="198.1" y="105.5" width="24.1" height="1.8" fill="#fff" fill-opacity="0.16"/></g></pattern>
<linearGradient id="light" x1="0" y1="0" x2="1" y2="0"><stop offset="0" stop-color="#000" stop-opacity="0.03"/><stop offset="0.45" stop-color="#000" stop-opacity="0"/><stop offset="1" stop-color="#fff" stop-opacity="0.07"/></linearGradient>
<filter id="meshblur" x="0" y="0" width="100%" height="100%"><feGaussianBlur stdDeviation="0.8"/></filter>
<filter id="soft" x="-10%" y="-10%" width="120%" height="120%"><feGaussianBlur stdDeviation="1.6"/></filter>
<filter id="soft2" x="-20%" y="-20%" width="140%" height="140%"><feGaussianBlur stdDeviation="3"/></filter>
</defs>
<rect x="113.5" y="1043.3" width="2196.0" height="429.2" fill="#b4b1b1"/>
<rect x="113.5" y="1043.3" width="2196.0" height="429.2" fill="url(#mesh)" filter="url(#meshblur)"/>
<rect x="113.5" y="1043.3" width="2196.0" height="429.2" fill="url(#light)"/>
<line x1="434.8" y1="1043.3" x2="446.0" y2="1472.5" stroke="#7c797b" stroke-opacity="0.55" stroke-width="7" filter="url(#soft)"/>
<line x1="815.8" y1="1043.3" x2="824.5" y2="1472.5" stroke="#7c797b" stroke-opacity="0.55" stroke-width="7" filter="url(#soft)"/>
<line x1="1199.7" y1="1043.3" x2="1206.7" y2="1472.5" stroke="#7c797b" stroke-opacity="0.55" stroke-width="7" filter="url(#soft)"/>
<line x1="1578.4" y1="1043.3" x2="1581.9" y2="1472.5" stroke="#7c797b" stroke-opacity="0.55" stroke-width="7" filter="url(#soft)"/>
<line x1="1946.3" y1="1043.3" x2="1949.7" y2="1472.5" stroke="#7c797b" stroke-opacity="0.55" stroke-width="7" filter="url(#soft)"/>
<ellipse cx="1018" cy="1165" rx="14" ry="8" fill="#c9956a" fill-opacity="0.35" filter="url(#soft2)"/>
<ellipse cx="1307" cy="1231" rx="5" ry="12" fill="#d8a050" fill-opacity="0.6" filter="url(#soft)"/>
<path d="M248.0,1201.9 C249.2,1201.3 251.0,1200.1 252.6,1199.2 C254.1,1198.3 255.6,1197.1 257.3,1196.4 C258.9,1195.7 260.7,1194.8 262.3,1194.9 C263.9,1194.9 265.3,1195.8 266.8,1196.5 C268.3,1197.3 269.8,1198.7 271.3,1199.2 C272.8,1199.8 274.2,1198.9 275.8,1199.8 C277.4,1200.8 279.4,1203.3 281.2,1205.2 C282.9,1207.0 284.5,1209.5 286.3,1211.1 C288.1,1212.6 290.1,1213.1 291.9,1214.3 C293.6,1215.5 294.8,1217.6 296.7,1218.2 C298.6,1218.9 301.3,1217.9 303.3,1218.4 C305.3,1218.9 307.5,1220.0 308.8,1221.1 C310.1,1222.3 310.3,1224.2 311.2,1225.4 C312.2,1226.5 313.4,1227.3 314.7,1228.1 C316.1,1228.8 318.2,1228.7 319.3,1229.7 C320.5,1230.7 320.6,1232.8 321.5,1234.0 C322.4,1235.2 323.8,1236.1 325.0,1237.1 C326.1,1238.2 327.6,1239.0 328.5,1240.2 C329.5,1241.4 329.9,1243.0 330.8,1244.4 C331.6,1245.8 332.5,1247.1 333.4,1248.5 C334.3,1249.9 336.1,1251.0 336.2,1252.7 C336.3,1254.5 333.9,1257.1 333.9,1259.1 C333.9,1261.0 336.1,1262.7 336.3,1264.6 C336.4,1266.5 335.2,1268.5 335.0,1270.5 C334.8,1272.5 335.3,1274.5 335.2,1276.5 C335.0,1278.5 334.7,1280.5 334.0,1282.4 C333.3,1284.3 331.5,1285.9 331.1,1287.7 C330.7,1289.4 331.9,1291.2 331.6,1292.6 C331.3,1294.1 329.8,1295.1 329.2,1296.4 C328.6,1297.7 328.4,1299.0 328.0,1300.6 C327.7,1302.1 327.6,1304.0 327.3,1305.7 C327.1,1307.4 327.0,1309.3 326.5,1310.9 C326.0,1312.4 325.1,1313.8 324.2,1314.9 C323.2,1316.1 321.5,1316.3 320.7,1317.6 C319.9,1319.0 320.0,1321.3 319.4,1322.8 C318.7,1324.3 318.3,1325.9 316.8,1326.6 C315.2,1327.2 312.1,1326.2 310.2,1326.6 C308.3,1327.0 306.9,1328.2 305.2,1329.0 C303.5,1329.7 301.8,1330.5 300.1,1331.3 C298.3,1332.1 296.8,1333.6 294.9,1333.9 C293.1,1334.2 290.8,1332.9 288.9,1333.3 C287.1,1333.7 285.6,1335.3 283.8,1336.4 C282.1,1337.5 280.3,1339.2 278.5,1339.9 C276.7,1340.7 274.9,1340.4 273.1,1341.0 C271.2,1341.6 269.3,1343.4 267.6,1343.6 C266.0,1343.8 264.6,1343.0 263.1,1342.4 C261.6,1341.9 260.2,1341.0 258.8,1340.3 C257.3,1339.6 256.0,1339.0 254.5,1338.3 C253.0,1337.6 251.3,1337.0 249.7,1336.0 C248.2,1335.1 246.8,1333.9 245.3,1332.7 C243.9,1331.6 242.6,1330.1 241.1,1329.1 C239.7,1328.0 237.9,1327.8 236.7,1326.4 C235.5,1325.1 235.1,1322.7 234.0,1321.2 C233.0,1319.7 231.4,1318.9 230.2,1317.5 C229.1,1316.1 228.2,1314.4 227.3,1312.7 C226.5,1311.0 225.8,1309.1 224.9,1307.4 C224.1,1305.6 223.0,1304.0 222.4,1302.1 C221.9,1300.1 221.9,1297.9 221.7,1295.8 C221.6,1293.7 222.1,1291.4 221.6,1289.5 C221.0,1287.5 219.1,1286.2 218.4,1284.2 C217.8,1282.2 217.9,1279.7 217.8,1277.4 C217.7,1275.1 218.0,1272.8 217.9,1270.5 C217.9,1268.2 217.4,1265.9 217.3,1263.7 C217.3,1261.6 217.7,1259.6 217.7,1257.6 C217.7,1255.5 217.5,1253.4 217.3,1251.3 C217.1,1249.2 216.2,1246.8 216.6,1245.0 C216.9,1243.2 218.7,1242.1 219.1,1240.3 C219.5,1238.4 218.9,1236.1 219.0,1234.1 C219.1,1232.1 218.8,1229.8 219.9,1228.3 C221.0,1226.8 224.2,1226.7 225.6,1225.2 C227.0,1223.8 227.2,1221.2 228.3,1219.5 C229.5,1217.8 231.2,1216.2 232.5,1215.1 C233.8,1214.0 235.2,1213.9 236.3,1213.0 C237.3,1212.1 238.2,1211.1 239.0,1209.7 C239.7,1208.3 240.0,1205.5 240.8,1204.6 C241.5,1203.7 242.7,1204.7 243.5,1204.3 C244.3,1204.0 244.9,1203.1 245.6,1202.7 C246.4,1202.3 246.9,1202.4 248.0,1201.9Z" fill="#8a6a50" fill-opacity="0.35" transform="translate(0,3)" filter="url(#soft2)"/>
<path d="M248.0,1201.9 C249.2,1201.3 251.0,1200.1 252.6,1199.2 C254.1,1198.3 255.6,1197.1 257.3,1196.4 C258.9,1195.7 260.7,1194.8 262.3,1194.9 C263.9,1194.9 265.3,1195.8 266.8,1196.5 C268.3,1197.3 269.8,1198.7 271.3,1199.2 C272.8,1199.8 274.2,1198.9 275.8,1199.8 C277.4,1200.8 279.4,1203.3 281.2,1205.2 C282.9,1207.0 284.5,1209.5 286.3,1211.1 C288.1,1212.6 290.1,1213.1 291.9,1214.3 C293.6,1215.5 294.8,1217.6 296.7,1218.2 C298.6,1218.9 301.3,1217.9 303.3,1218.4 C305.3,1218.9 307.5,1220.0 308.8,1221.1 C310.1,1222.3 310.3,1224.2 311.2,1225.4 C312.2,1226.5 313.4,1227.3 314.7,1228.1 C316.1,1228.8 318.2,1228.7 319.3,1229.7 C320.5,1230.7 320.6,1232.8 321.5,1234.0 C322.4,1235.2 323.8,1236.1 325.0,1237.1 C326.1,1238.2 327.6,1239.0 328.5,1240.2 C329.5,1241.4 329.9,1243.0 330.8,1244.4 C331.6,1245.8 332.5,1247.1 333.4,1248.5 C334.3,1249.9 336.1,1251.0 336.2,1252.7 C336.3,1254.5 333.9,1257.1 333.9,1259.1 C333.9,1261.0 336.1,1262.7 336.3,1264.6 C336.4,1266.5 335.2,1268.5 335.0,1270.5 C334.8,1272.5 335.3,1274.5 335.2,1276.5 C335.0,1278.5 334.7,1280.5 334.0,1282.4 C333.3,1284.3 331.5,1285.9 331.1,1287.7 C330.7,1289.4 331.9,1291.2 331.6,1292.6 C331.3,1294.1 329.8,1295.1 329.2,1296.4 C328.6,1297.7 328.4,1299.0 328.0,1300.6 C327.7,1302.1 327.6,1304.0 327.3,1305.7 C327.1,1307.4 327.0,1309.3 326.5,1310.9 C326.0,1312.4 325.1,1313.8 324.2,1314.9 C323.2,1316.1 321.5,1316.3 320.7,1317.6 C319.9,1319.0 320.0,1321.3 319.4,1322.8 C318.7,1324.3 318.3,1325.9 316.8,1326.6 C315.2,1327.2 312.1,1326.2 310.2,1326.6 C308.3,1327.0 306.9,1328.2 305.2,1329.0 C303.5,1329.7 301.8,1330.5 300.1,1331.3 C298.3,1332.1 296.8,1333.6 294.9,1333.9 C293.1,1334.2 290.8,1332.9 288.9,1333.3 C287.1,1333.7 285.6,1335.3 283.8,1336.4 C282.1,1337.5 280.3,1339.2 278.5,1339.9 C276.7,1340.7 274.9,1340.4 273.1,1341.0 C271.2,1341.6 269.3,1343.4 267.6,1343.6 C266.0,1343.8 264.6,1343.0 263.1,1342.4 C261.6,1341.9 260.2,1341.0 258.8,1340.3 C257.3,1339.6 256.0,1339.0 254.5,1338.3 C253.0,1337.6 251.3,1337.0 249.7,1336.0 C248.2,1335.1 246.8,1333.9 245.3,1332.7 C243.9,1331.6 242.6,1330.1 241.1,1329.1 C239.7,1328.0 237.9,1327.8 236.7,1326.4 C235.5,1325.1 235.1,1322.7 234.0,1321.2 C233.0,1319.7 231.4,1318.9 230.2,1317.5 C229.1,1316.1 228.2,1314.4 227.3,1312.7 C226.5,1311.0 225.8,1309.1 224.9,1307.4 C224.1,1305.6 223.0,1304.0 222.4,1302.1 C221.9,1300.1 221.9,1297.9 221.7,1295.8 C221.6,1293.7 222.1,1291.4 221.6,1289.5 C221.0,1287.5 219.1,1286.2 218.4,1284.2 C217.8,1282.2 217.9,1279.7 217.8,1277.4 C217.7,1275.1 218.0,1272.8 217.9,1270.5 C217.9,1268.2 217.4,1265.9 217.3,1263.7 C217.3,1261.6 217.7,1259.6 217.7,1257.6 C217.7,1255.5 217.5,1253.4 217.3,1251.3 C217.1,1249.2 216.2,1246.8 216.6,1245.0 C216.9,1243.2 218.7,1242.1 219.1,1240.3 C219.5,1238.4 218.9,1236.1 219.0,1234.1 C219.1,1232.1 218.8,1229.8 219.9,1228.3 C221.0,1226.8 224.2,1226.7 225.6,1225.2 C227.0,1223.8 227.2,1221.2 228.3,1219.5 C229.5,1217.8 231.2,1216.2 232.5,1215.1 C233.8,1214.0 235.2,1213.9 236.3,1213.0 C237.3,1212.1 238.2,1211.1 239.0,1209.7 C239.7,1208.3 240.0,1205.5 240.8,1204.6 C241.5,1203.7 242.7,1204.7 243.5,1204.3 C244.3,1204.0 244.9,1203.1 245.6,1202.7 C246.4,1202.3 246.9,1202.4 248.0,1201.9Z" fill="#d0ca8e" stroke="#8e8a5e" stroke-opacity="0.45" stroke-width="2.5" filter="url(#soft)"/>
<path d="M585.3,1179.9 C586.9,1179.4 590.1,1180.8 592.4,1180.4 C594.6,1179.9 596.4,1177.9 598.6,1177.3 C600.8,1176.7 603.2,1176.4 605.5,1176.7 C607.7,1177.1 609.9,1179.0 612.2,1179.5 C614.4,1180.1 616.8,1179.7 619.0,1180.3 C621.2,1180.8 623.1,1182.0 625.3,1183.0 C627.4,1183.9 629.7,1185.0 631.9,1185.9 C634.1,1186.9 636.2,1187.9 638.6,1188.7 C641.0,1189.5 644.2,1189.6 646.1,1190.7 C648.0,1191.9 648.2,1194.3 650.0,1195.5 C651.9,1196.6 655.4,1196.4 657.0,1197.6 C658.6,1198.9 658.6,1201.3 659.6,1202.9 C660.7,1204.5 662.1,1205.8 663.2,1207.3 C664.4,1208.9 664.8,1210.6 666.2,1212.1 C667.6,1213.5 670.8,1214.6 671.6,1216.1 C672.4,1217.6 671.0,1219.5 671.1,1221.1 C671.2,1222.7 671.9,1224.2 672.1,1225.7 C672.3,1227.3 672.4,1228.8 672.3,1230.4 C672.3,1232.1 672.4,1233.8 672.0,1235.4 C671.6,1237.1 670.5,1238.8 669.9,1240.4 C669.2,1242.1 668.5,1243.8 667.9,1245.3 C667.2,1246.9 666.8,1248.4 665.9,1249.8 C665.1,1251.3 663.9,1252.6 662.9,1254.0 C661.8,1255.4 660.7,1256.7 659.7,1258.1 C658.6,1259.5 658.1,1261.2 656.7,1262.4 C655.3,1263.7 653.0,1264.5 651.2,1265.6 C649.4,1266.7 648.0,1268.1 646.1,1268.9 C644.2,1269.8 642.1,1270.5 639.8,1270.8 C637.5,1271.2 634.5,1270.8 632.1,1271.0 C629.7,1271.2 626.9,1271.4 625.4,1272.3 C623.9,1273.1 623.9,1274.8 623.2,1276.1 C622.4,1277.3 621.6,1278.3 620.8,1279.7 C620.1,1281.1 619.9,1283.7 618.7,1284.2 C617.6,1284.8 615.5,1282.9 614.0,1283.1 C612.5,1283.4 611.3,1285.0 609.9,1285.6 C608.4,1286.2 607.1,1286.8 605.5,1286.8 C603.9,1286.8 602.1,1286.0 600.5,1285.5 C598.9,1285.1 597.5,1283.9 595.8,1283.9 C594.0,1283.8 591.4,1286.0 590.2,1285.3 C589.0,1284.6 589.2,1280.9 588.3,1279.5 C587.4,1278.2 585.8,1278.6 584.9,1277.5 C584.0,1276.3 584.1,1273.8 582.9,1272.7 C581.7,1271.5 579.4,1271.3 577.6,1270.8 C575.7,1270.3 573.6,1270.1 571.7,1269.5 C569.8,1269.0 568.1,1268.4 566.4,1267.7 C564.6,1267.0 563.1,1266.0 561.2,1265.3 C559.2,1264.6 556.7,1264.3 554.7,1263.6 C552.8,1262.8 550.7,1262.1 549.5,1260.9 C548.4,1259.7 548.8,1257.8 547.9,1256.4 C547.0,1255.0 545.3,1254.0 544.3,1252.7 C543.4,1251.3 542.5,1250.2 542.2,1248.5 C541.9,1246.8 542.5,1244.5 542.4,1242.5 C542.3,1240.5 541.4,1238.5 541.6,1236.5 C541.8,1234.5 543.2,1232.6 543.7,1230.4 C544.2,1228.3 543.7,1225.8 544.3,1223.5 C544.9,1221.2 546.4,1219.1 547.2,1216.8 C548.1,1214.6 548.3,1211.8 549.7,1210.1 C551.0,1208.3 554.0,1207.8 555.6,1206.4 C557.2,1205.0 558.0,1203.2 559.3,1201.7 C560.6,1200.1 562.1,1198.6 563.3,1197.2 C564.6,1195.8 565.8,1194.7 566.9,1193.2 C568.0,1191.7 568.8,1189.7 570.0,1188.4 C571.3,1187.0 573.3,1186.0 574.6,1185.1 C576.0,1184.2 576.8,1183.5 578.1,1183.2 C579.5,1182.8 581.4,1183.8 582.6,1183.2 C583.8,1182.7 583.7,1180.3 585.3,1179.9Z" fill="#8a6a50" fill-opacity="0.35" transform="translate(0,3)" filter="url(#soft2)"/>
<path d="M585.3,1179.9 C586.9,1179.4 590.1,1180.8 592.4,1180.4 C594.6,1179.9 596.4,1177.9 598.6,1177.3 C600.8,1176.7 603.2,1176.4 605.5,1176.7 C607.7,1177.1 609.9,1179.0 612.2,1179.5 C614.4,1180.1 616.8,1179.7 619.0,1180.3 C621.2,1180.8 623.1,1182.0 625.3,1183.0 C627.4,1183.9 629.7,1185.0 631.9,1185.9 C634.1,1186.9 636.2,1187.9 638.6,1188.7 C641.0,1189.5 644.2,1189.6 646.1,1190.7 C648.0,1191.9 648.2,1194.3 650.0,1195.5 C651.9,1196.6 655.4,1196.4 657.0,1197.6 C658.6,1198.9 658.6,1201.3 659.6,1202.9 C660.7,1204.5 662.1,1205.8 663.2,1207.3 C664.4,1208.9 664.8,1210.6 666.2,1212.1 C667.6,1213.5 670.8,1214.6 671.6,1216.1 C672.4,1217.6 671.0,1219.5 671.1,1221.1 C671.2,1222.7 671.9,1224.2 672.1,1225.7 C672.3,1227.3 672.4,1228.8 672.3,1230.4 C672.3,1232.1 672.4,1233.8 672.0,1235.4 C671.6,1237.1 670.5,1238.8 669.9,1240.4 C669.2,1242.1 668.5,1243.8 667.9,1245.3 C667.2,1246.9 666.8,1248.4 665.9,1249.8 C665.1,1251.3 663.9,1252.6 662.9,1254.0 C661.8,1255.4 660.7,1256.7 659.7,1258.1 C658.6,1259.5 658.1,1261.2 656.7,1262.4 C655.3,1263.7 653.0,1264.5 651.2,1265.6 C649.4,1266.7 648.0,1268.1 646.1,1268.9 C644.2,1269.8 642.1,1270.5 639.8,1270.8 C637.5,1271.2 634.5,1270.8 632.1,1271.0 C629.7,1271.2 626.9,1271.4 625.4,1272.3 C623.9,1273.1 623.9,1274.8 623.2,1276.1 C622.4,1277.3 621.6,1278.3 620.8,1279.7 C620.1,1281.1 619.9,1283.7 618.7,1284.2 C617.6,1284.8 615.5,1282.9 614.0,1283.1 C612.5,1283.4 611.3,1285.0 609.9,1285.6 C608.4,1286.2 607.1,1286.8 605.5,1286.8 C603.9,1286.8 602.1,1286.0 600.5,1285.5 C598.9,1285.1 597.5,1283.9 595.8,1283.9 C594.0,1283.8 591.4,1286.0 590.2,1285.3 C589.0,1284.6 589.2,1280.9 588.3,1279.5 C587.4,1278.2 585.8,1278.6 584.9,1277.5 C584.0,1276.3 584.1,1273.8 582.9,1272.7 C581.7,1271.5 579.4,1271.3 577.6,1270.8 C575.7,1270.3 573.6,1270.1 571.7,1269.5 C569.8,1269.0 568.1,1268.4 566.4,1267.7 C564.6,1267.0 563.1,1266.0 561.2,1265.3 C559.2,1264.6 556.7,1264.3 554.7,1263.6 C552.8,1262.8 550.7,1262.1 549.5,1260.9 C548.4,1259.7 548.8,1257.8 547.9,1256.4 C547.0,1255.0 545.3,1254.0 544.3,1252.7 C543.4,1251.3 542.5,1250.2 542.2,1248.5 C541.9,1246.8 542.5,1244.5 542.4,1242.5 C542.3,1240.5 541.4,1238.5 541.6,1236.5 C541.8,1234.5 543.2,1232.6 543.7,1230.4 C544.2,1228.3 543.7,1225.8 544.3,1223.5 C544.9,1221.2 546.4,1219.1 547.2,1216.8 C548.1,1214.6 548.3,1211.8 549.7,1210.1 C551.0,1208.3 554.0,1207.8 555.6,1206.4 C557.2,1205.0 558.0,1203.2 559.3,1201.7 C560.6,1200.1 562.1,1198.6 563.3,1197.2 C564.6,1195.8 565.8,1194.7 566.9,1193.2 C568.0,1191.7 568.8,1189.7 570.0,1188.4 C571.3,1187.0 573.3,1186.0 574.6,1185.1 C576.0,1184.2 576.8,1183.5 578.1,1183.2 C579.5,1182.8 581.4,1183.8 582.6,1183.2 C583.8,1182.7 583.7,1180.3 585.3,1179.9Z" fill="#e28b3e" stroke="#a8561c" stroke-opacity="0.45" stroke-width="2.5" filter="url(#soft)"/>
<path d="M990.8,1186.0 C992.7,1185.1 995.7,1182.3 998.5,1181.2 C1001.3,1180.0 1004.6,1180.2 1007.5,1178.9 C1010.4,1177.7 1012.9,1174.4 1015.7,1173.6 C1018.6,1172.9 1021.8,1174.0 1024.8,1174.3 C1027.7,1174.6 1030.6,1175.3 1033.6,1175.4 C1036.6,1175.5 1040.9,1174.2 1042.7,1175.1 C1044.6,1175.9 1044.1,1178.5 1044.5,1180.6 C1044.9,1182.6 1044.8,1185.6 1045.4,1187.4 C1046.0,1189.2 1046.7,1190.3 1048.1,1191.4 C1049.4,1192.5 1051.9,1193.1 1053.6,1194.1 C1055.4,1195.1 1056.9,1196.3 1058.8,1197.2 C1060.7,1198.1 1063.7,1198.2 1065.1,1199.5 C1066.6,1200.7 1066.9,1203.0 1067.7,1204.8 C1068.4,1206.6 1068.8,1208.5 1069.5,1210.2 C1070.2,1212.0 1071.0,1213.6 1071.8,1215.3 C1072.7,1217.0 1073.3,1218.8 1074.7,1220.6 C1076.1,1222.3 1078.7,1224.1 1080.1,1225.8 C1081.5,1227.6 1082.6,1229.5 1082.9,1231.2 C1083.2,1233.0 1082.3,1234.9 1081.9,1236.6 C1081.6,1238.4 1081.0,1240.1 1080.7,1241.9 C1080.4,1243.7 1080.8,1245.7 1080.2,1247.3 C1079.6,1248.9 1077.7,1250.0 1076.9,1251.6 C1076.1,1253.1 1076.1,1255.1 1075.3,1256.6 C1074.4,1258.1 1072.9,1259.0 1071.8,1260.6 C1070.6,1262.1 1069.7,1264.2 1068.3,1265.7 C1067.0,1267.3 1065.2,1268.6 1063.7,1270.1 C1062.1,1271.6 1061.1,1273.7 1059.0,1274.5 C1057.0,1275.3 1053.7,1274.6 1051.1,1274.8 C1048.6,1275.1 1046.2,1275.3 1043.9,1275.8 C1041.5,1276.3 1039.5,1277.4 1037.1,1277.9 C1034.7,1278.4 1032.1,1278.9 1029.5,1279.0 C1026.9,1279.1 1024.2,1278.4 1021.6,1278.4 C1018.9,1278.5 1016.0,1279.9 1013.6,1279.2 C1011.2,1278.5 1009.4,1275.7 1007.3,1274.3 C1005.2,1272.8 1003.2,1271.3 1001.0,1270.2 C998.7,1269.1 995.6,1269.2 993.7,1267.7 C991.8,1266.2 991.3,1263.2 989.7,1261.5 C988.2,1259.8 986.3,1258.7 984.4,1257.4 C982.4,1256.1 979.9,1255.1 978.1,1253.9 C976.3,1252.6 975.0,1251.3 973.6,1250.0 C972.3,1248.6 971.3,1247.1 969.9,1245.8 C968.5,1244.4 966.3,1243.5 965.2,1242.0 C964.1,1240.4 964.2,1238.3 963.5,1236.5 C962.7,1234.7 961.5,1233.0 960.6,1231.2 C959.6,1229.4 958.0,1227.7 957.8,1225.8 C957.5,1223.9 958.5,1221.9 959.0,1220.0 C959.5,1218.1 960.2,1216.2 960.7,1214.3 C961.2,1212.4 961.7,1210.4 962.3,1208.7 C962.9,1207.0 963.2,1205.6 964.4,1204.2 C965.6,1202.9 968.1,1202.2 969.5,1200.9 C970.8,1199.6 971.7,1197.8 972.6,1196.7 C973.4,1195.5 973.6,1194.8 974.4,1194.1 C975.2,1193.3 976.4,1192.8 977.4,1192.2 C978.5,1191.6 979.7,1191.3 980.7,1190.6 C981.6,1189.9 982.1,1188.7 983.1,1188.1 C984.1,1187.4 985.4,1187.0 986.7,1186.6 C987.9,1186.3 988.8,1186.9 990.8,1186.0Z" fill="#8a6a50" fill-opacity="0.35" transform="translate(0,3)" filter="url(#soft2)"/>
<path d="M990.8,1186.0 C992.7,1185.1 995.7,1182.3 998.5,1181.2 C1001.3,1180.0 1004.6,1180.2 1007.5,1178.9 C1010.4,1177.7 1012.9,1174.4 1015.7,1173.6 C1018.6,1172.9 1021.8,1174.0 1024.8,1174.3 C1027.7,1174.6 1030.6,1175.3 1033.6,1175.4 C1036.6,1175.5 1040.9,1174.2 1042.7,1175.1 C1044.6,1175.9 1044.1,1178.5 1044.5,1180.6 C1044.9,1182.6 1044.8,1185.6 1045.4,1187.4 C1046.0,1189.2 1046.7,1190.3 1048.1,1191.4 C1049.4,1192.5 1051.9,1193.1 1053.6,1194.1 C1055.4,1195.1 1056.9,1196.3 1058.8,1197.2 C1060.7,1198.1 1063.7,1198.2 1065.1,1199.5 C1066.6,1200.7 1066.9,1203.0 1067.7,1204.8 C1068.4,1206.6 1068.8,1208.5 1069.5,1210.2 C1070.2,1212.0 1071.0,1213.6 1071.8,1215.3 C1072.7,1217.0 1073.3,1218.8 1074.7,1220.6 C1076.1,1222.3 1078.7,1224.1 1080.1,1225.8 C1081.5,1227.6 1082.6,1229.5 1082.9,1231.2 C1083.2,1233.0 1082.3,1234.9 1081.9,1236.6 C1081.6,1238.4 1081.0,1240.1 1080.7,1241.9 C1080.4,1243.7 1080.8,1245.7 1080.2,1247.3 C1079.6,1248.9 1077.7,1250.0 1076.9,1251.6 C1076.1,1253.1 1076.1,1255.1 1075.3,1256.6 C1074.4,1258.1 1072.9,1259.0 1071.8,1260.6 C1070.6,1262.1 1069.7,1264.2 1068.3,1265.7 C1067.0,1267.3 1065.2,1268.6 1063.7,1270.1 C1062.1,1271.6 1061.1,1273.7 1059.0,1274.5 C1057.0,1275.3 1053.7,1274.6 1051.1,1274.8 C1048.6,1275.1 1046.2,1275.3 1043.9,1275.8 C1041.5,1276.3 1039.5,1277.4 1037.1,1277.9 C1034.7,1278.4 1032.1,1278.9 1029.5,1279.0 C1026.9,1279.1 1024.2,1278.4 1021.6,1278.4 C1018.9,1278.5 1016.0,1279.9 1013.6,1279.2 C1011.2,1278.5 1009.4,1275.7 1007.3,1274.3 C1005.2,1272.8 1003.2,1271.3 1001.0,1270.2 C998.7,1269.1 995.6,1269.2 993.7,1267.7 C991.8,1266.2 991.3,1263.2 989.7,1261.5 C988.2,1259.8 986.3,1258.7 984.4,1257.4 C982.4,1256.1 979.9,1255.1 978.1,1253.9 C976.3,1252.6 975.0,1251.3 973.6,1250.0 C972.3,1248.6 971.3,1247.1 969.9,1245.8 C968.5,1244.4 966.3,1243.5 965.2,1242.0 C964.1,1240.4 964.2,1238.3 963.5,1236.5 C962.7,1234.7 961.5,1233.0 960.6,1231.2 C959.6,1229.4 958.0,1227.7 957.8,1225.8 C957.5,1223.9 958.5,1221.9 959.0,1220.0 C959.5,1218.1 960.2,1216.2 960.7,1214.3 C961.2,1212.4 961.7,1210.4 962.3,1208.7 C962.9,1207.0 963.2,1205.6 964.4,1204.2 C965.6,1202.9 968.1,1202.2 969.5,1200.9 C970.8,1199.6 971.7,1197.8 972.6,1196.7 C973.4,1195.5 973.6,1194.8 974.4,1194.1 C975.2,1193.3 976.4,1192.8 977.4,1192.2 C978.5,1191.6 979.7,1191.3 980.7,1190.6 C981.6,1189.9 982.1,1188.7 983.1,1188.1 C984.1,1187.4 985.4,1187.0 986.7,1186.6 C987.9,1186.3 988.8,1186.9 990.8,1186.0Z" fill="#e18736" stroke="#a8561c" stroke-opacity="0.45" stroke-width="2.5" filter="url(#soft)"/>
<path d="M1375.4,1164.6 C1377.2,1164.1 1380.5,1166.1 1383.0,1166.2 C1385.4,1166.4 1387.6,1165.5 1390.0,1165.4 C1392.4,1165.3 1395.2,1164.4 1397.2,1165.3 C1399.3,1166.3 1400.7,1169.5 1402.4,1171.3 C1404.1,1173.1 1405.7,1174.8 1407.6,1176.0 C1409.4,1177.2 1411.7,1177.7 1413.4,1178.7 C1415.2,1179.7 1416.4,1181.1 1418.1,1181.8 C1419.8,1182.5 1421.8,1182.6 1423.8,1182.8 C1425.8,1183.1 1428.4,1182.5 1430.2,1183.3 C1432.0,1184.2 1433.4,1186.3 1434.6,1188.1 C1435.7,1190.0 1435.9,1192.6 1437.0,1194.4 C1438.1,1196.2 1439.8,1197.3 1441.2,1199.0 C1442.6,1200.7 1443.8,1202.9 1445.4,1204.7 C1447.1,1206.6 1450.0,1208.1 1451.2,1210.1 C1452.4,1212.1 1451.8,1214.6 1452.6,1216.8 C1453.4,1218.9 1454.9,1220.9 1455.7,1223.0 C1456.6,1225.1 1457.1,1227.2 1457.8,1229.4 C1458.6,1231.5 1460.0,1233.7 1460.4,1235.7 C1460.8,1237.6 1460.7,1239.4 1460.2,1241.2 C1459.8,1242.9 1458.3,1244.5 1457.8,1246.3 C1457.2,1248.0 1457.2,1249.9 1457.0,1251.8 C1456.8,1253.7 1456.9,1255.7 1456.5,1257.6 C1456.2,1259.4 1455.7,1261.3 1455.1,1263.0 C1454.4,1264.7 1453.7,1266.1 1452.8,1267.9 C1451.8,1269.6 1450.8,1271.9 1449.4,1273.6 C1448.0,1275.3 1446.0,1276.5 1444.6,1278.2 C1443.1,1279.9 1442.8,1282.7 1440.8,1283.8 C1438.8,1284.8 1435.0,1284.0 1432.5,1284.5 C1430.0,1285.0 1427.9,1286.0 1425.6,1286.9 C1423.3,1287.8 1421.4,1289.1 1418.8,1289.6 C1416.2,1290.2 1413.1,1290.5 1410.1,1290.4 C1407.2,1290.3 1403.9,1289.4 1400.9,1289.0 C1397.8,1288.7 1394.9,1288.5 1391.9,1288.2 C1388.9,1287.9 1386.0,1287.4 1383.1,1287.1 C1380.2,1286.9 1377.2,1287.0 1374.3,1286.9 C1371.3,1286.8 1368.0,1286.6 1365.5,1286.4 C1362.9,1286.2 1360.9,1286.3 1358.9,1285.7 C1357.0,1285.1 1355.4,1283.5 1353.6,1282.5 C1351.8,1281.5 1349.7,1281.2 1348.2,1279.6 C1346.7,1278.1 1346.0,1275.3 1344.6,1273.4 C1343.2,1271.5 1341.2,1270.2 1339.9,1268.4 C1338.5,1266.5 1337.5,1264.2 1336.7,1262.3 C1335.9,1260.3 1335.4,1258.5 1335.1,1256.5 C1334.8,1254.5 1335.4,1252.1 1335.0,1250.1 C1334.7,1248.0 1333.4,1246.4 1333.1,1244.3 C1332.9,1242.3 1333.5,1240.0 1333.7,1237.8 C1333.9,1235.7 1334.5,1233.6 1334.2,1231.5 C1333.8,1229.3 1331.1,1226.8 1331.6,1225.0 C1332.0,1223.3 1335.8,1222.4 1336.7,1221.0 C1337.6,1219.5 1336.4,1217.8 1336.9,1216.3 C1337.4,1214.8 1338.5,1213.3 1339.8,1212.0 C1341.1,1210.8 1343.6,1210.0 1344.8,1208.8 C1346.0,1207.5 1346.2,1205.9 1346.8,1204.4 C1347.5,1202.8 1348.1,1201.1 1348.7,1199.5 C1349.2,1198.0 1349.5,1196.5 1350.2,1195.1 C1350.9,1193.8 1352.1,1193.0 1352.7,1191.7 C1353.3,1190.3 1352.9,1188.4 1353.7,1186.9 C1354.5,1185.4 1356.1,1183.9 1357.5,1182.7 C1358.8,1181.5 1360.6,1180.9 1361.9,1179.5 C1363.1,1178.2 1363.9,1175.9 1365.0,1174.6 C1366.1,1173.2 1367.3,1172.4 1368.5,1171.5 C1369.8,1170.7 1371.2,1170.4 1372.3,1169.3 C1373.5,1168.1 1373.6,1165.1 1375.4,1164.6Z" fill="#8a6a50" fill-opacity="0.35" transform="translate(0,3)" filter="url(#soft2)"/>
<path d="M1375.4,1164.6 C1377.2,1164.1 1380.5,1166.1 1383.0,1166.2 C1385.4,1166.4 1387.6,1165.5 1390.0,1165.4 C1392.4,1165.3 1395.2,1164.4 1397.2,1165.3 C1399.3,1166.3 1400.7,1169.5 1402.4,1171.3 C1404.1,1173.1 1405.7,1174.8 1407.6,1176.0 C1409.4,1177.2 1411.7,1177.7 1413.4,1178.7 C1415.2,1179.7 1416.4,1181.1 1418.1,1181.8 C1419.8,1182.5 1421.8,1182.6 1423.8,1182.8 C1425.8,1183.1 1428.4,1182.5 1430.2,1183.3 C1432.0,1184.2 1433.4,1186.3 1434.6,1188.1 C1435.7,1190.0 1435.9,1192.6 1437.0,1194.4 C1438.1,1196.2 1439.8,1197.3 1441.2,1199.0 C1442.6,1200.7 1443.8,1202.9 1445.4,1204.7 C1447.1,1206.6 1450.0,1208.1 1451.2,1210.1 C1452.4,1212.1 1451.8,1214.6 1452.6,1216.8 C1453.4,1218.9 1454.9,1220.9 1455.7,1223.0 C1456.6,1225.1 1457.1,1227.2 1457.8,1229.4 C1458.6,1231.5 1460.0,1233.7 1460.4,1235.7 C1460.8,1237.6 1460.7,1239.4 1460.2,1241.2 C1459.8,1242.9 1458.3,1244.5 1457.8,1246.3 C1457.2,1248.0 1457.2,1249.9 1457.0,1251.8 C1456.8,1253.7 1456.9,1255.7 1456.5,1257.6 C1456.2,1259.4 1455.7,1261.3 1455.1,1263.0 C1454.4,1264.7 1453.7,1266.1 1452.8,1267.9 C1451.8,1269.6 1450.8,1271.9 1449.4,1273.6 C1448.0,1275.3 1446.0,1276.5 1444.6,1278.2 C1443.1,1279.9 1442.8,1282.7 1440.8,1283.8 C1438.8,1284.8 1435.0,1284.0 1432.5,1284.5 C1430.0,1285.0 1427.9,1286.0 1425.6,1286.9 C1423.3,1287.8 1421.4,1289.1 1418.8,1289.6 C1416.2,1290.2 1413.1,1290.5 1410.1,1290.4 C1407.2,1290.3 1403.9,1289.4 1400.9,1289.0 C1397.8,1288.7 1394.9,1288.5 1391.9,1288.2 C1388.9,1287.9 1386.0,1287.4 1383.1,1287.1 C1380.2,1286.9 1377.2,1287.0 1374.3,1286.9 C1371.3,1286.8 1368.0,1286.6 1365.5,1286.4 C1362.9,1286.2 1360.9,1286.3 1358.9,1285.7 C1357.0,1285.1 1355.4,1283.5 1353.6,1282.5 C1351.8,1281.5 1349.7,1281.2 1348.2,1279.6 C1346.7,1278.1 1346.0,1275.3 1344.6,1273.4 C1343.2,1271.5 1341.2,1270.2 1339.9,1268.4 C1338.5,1266.5 1337.5,1264.2 1336.7,1262.3 C1335.9,1260.3 1335.4,1258.5 1335.1,1256.5 C1334.8,1254.5 1335.4,1252.1 1335.0,1250.1 C1334.7,1248.0 1333.4,1246.4 1333.1,1244.3 C1332.9,1242.3 1333.5,1240.0 1333.7,1237.8 C1333.9,1235.7 1334.5,1233.6 1334.2,1231.5 C1333.8,1229.3 1331.1,1226.8 1331.6,1225.0 C1332.0,1223.3 1335.8,1222.4 1336.7,1221.0 C1337.6,1219.5 1336.4,1217.8 1336.9,1216.3 C1337.4,1214.8 1338.5,1213.3 1339.8,1212.0 C1341.1,1210.8 1343.6,1210.0 1344.8,1208.8 C1346.0,1207.5 1346.2,1205.9 1346.8,1204.4 C1347.5,1202.8 1348.1,1201.1 1348.7,1199.5 C1349.2,1198.0 1349.5,1196.5 1350.2,1195.1 C1350.9,1193.8 1352.1,1193.0 1352.7,1191.7 C1353.3,1190.3 1352.9,1188.4 1353.7,1186.9 C1354.5,1185.4 1356.1,1183.9 1357.5,1182.7 C1358.8,1181.5 1360.6,1180.9 1361.9,1179.5 C1363.1,1178.2 1363.9,1175.9 1365.0,1174.6 C1366.1,1173.2 1367.3,1172.4 1368.5,1171.5 C1369.8,1170.7 1371.2,1170.4 1372.3,1169.3 C1373.5,1168.1 1373.6,1165.1 1375.4,1164.6Z" fill="#e07e0e" stroke="#a8561c" stroke-opacity="0.45" stroke-width="2.5" filter="url(#soft)"/>
<path d="M1677.2,1214.4 C1678.9,1213.1 1683.0,1213.6 1686.0,1213.3 C1688.9,1212.9 1691.8,1212.5 1694.8,1212.3 C1697.8,1212.2 1701.2,1212.5 1704.1,1212.5 C1707.0,1212.5 1709.6,1212.4 1712.4,1212.2 C1715.1,1212.0 1717.8,1211.3 1720.5,1211.0 C1723.3,1210.8 1725.9,1210.5 1729.1,1210.7 C1732.3,1210.9 1736.2,1212.3 1739.7,1212.4 C1743.3,1212.4 1746.6,1211.8 1750.2,1211.0 C1753.8,1210.3 1758.6,1207.3 1761.4,1207.9 C1764.2,1208.5 1764.8,1212.9 1766.9,1214.4 C1769.0,1216.0 1771.8,1215.8 1774.0,1217.1 C1776.1,1218.4 1777.6,1221.0 1779.8,1222.2 C1781.9,1223.5 1784.5,1223.9 1786.8,1224.9 C1789.1,1225.8 1791.6,1226.7 1793.7,1227.8 C1795.8,1229.0 1799.6,1230.5 1799.4,1231.8 C1799.2,1233.2 1794.8,1234.7 1792.6,1236.0 C1790.3,1237.4 1788.1,1238.8 1786.0,1240.0 C1784.0,1241.2 1781.7,1241.8 1780.4,1243.3 C1779.1,1244.7 1779.1,1246.9 1778.3,1248.8 C1777.5,1250.7 1776.4,1252.8 1775.7,1254.7 C1774.9,1256.6 1773.4,1258.3 1773.7,1260.2 C1774.0,1262.0 1776.3,1263.7 1777.3,1265.6 C1778.3,1267.4 1778.9,1269.4 1779.8,1271.2 C1780.8,1273.1 1781.5,1274.9 1783.0,1276.7 C1784.4,1278.4 1787.1,1280.0 1788.5,1281.7 C1789.8,1283.4 1789.8,1284.9 1791.2,1286.6 C1792.6,1288.3 1796.1,1290.0 1797.0,1292.0 C1797.9,1294.0 1796.7,1296.4 1796.4,1298.6 C1796.0,1300.7 1795.8,1303.1 1795.1,1305.1 C1794.4,1307.1 1793.0,1308.6 1792.2,1310.6 C1791.4,1312.6 1791.0,1314.9 1790.5,1317.2 C1790.1,1319.5 1790.4,1322.5 1789.7,1324.6 C1788.9,1326.7 1787.6,1327.9 1786.2,1329.8 C1784.7,1331.6 1783.3,1334.3 1781.1,1335.6 C1779.0,1336.9 1775.5,1336.4 1773.3,1337.8 C1771.1,1339.2 1769.6,1342.6 1767.9,1343.9 C1766.1,1345.2 1764.1,1344.4 1762.6,1345.8 C1761.1,1347.1 1760.3,1350.1 1759.0,1351.9 C1757.7,1353.7 1757.0,1355.7 1754.8,1356.6 C1752.7,1357.4 1749.0,1356.7 1746.2,1357.0 C1743.3,1357.4 1740.5,1357.9 1737.7,1358.6 C1734.8,1359.2 1731.6,1360.7 1729.1,1360.7 C1726.5,1360.8 1724.6,1359.9 1722.5,1358.9 C1720.5,1357.8 1718.8,1355.2 1716.7,1354.2 C1714.7,1353.3 1711.8,1354.5 1710.1,1353.2 C1708.4,1351.8 1707.8,1348.1 1706.4,1346.2 C1705.1,1344.3 1703.2,1343.5 1701.8,1341.7 C1700.3,1339.9 1698.9,1337.6 1697.9,1335.6 C1697.0,1333.5 1696.7,1331.2 1695.9,1329.3 C1695.0,1327.4 1693.5,1326.2 1692.8,1324.1 C1692.2,1321.9 1692.7,1318.8 1692.0,1316.6 C1691.4,1314.3 1689.9,1312.5 1688.9,1310.4 C1688.0,1308.3 1687.7,1305.9 1686.4,1304.0 C1685.1,1302.0 1682.0,1300.7 1681.1,1298.6 C1680.1,1296.6 1681.0,1294.0 1680.7,1291.8 C1680.4,1289.6 1680.1,1287.5 1679.2,1285.4 C1678.3,1283.3 1676.2,1281.7 1675.3,1279.2 C1674.4,1276.7 1674.1,1273.5 1673.7,1270.6 C1673.3,1267.8 1673.0,1264.9 1672.7,1262.1 C1672.4,1259.3 1671.8,1256.1 1671.7,1253.6 C1671.6,1251.2 1672.1,1249.5 1672.1,1247.3 C1672.2,1245.1 1671.8,1242.7 1672.1,1240.6 C1672.3,1238.6 1673.3,1237.1 1673.6,1234.9 C1673.9,1232.8 1673.5,1229.8 1674.0,1227.5 C1674.4,1225.3 1675.5,1223.6 1676.0,1221.4 C1676.6,1219.3 1675.5,1215.8 1677.2,1214.4Z" fill="#8a6a50" fill-opacity="0.35" transform="translate(0,3)" filter="url(#soft2)"/>
<path d="M1677.2,1214.4 C1678.9,1213.1 1683.0,1213.6 1686.0,1213.3 C1688.9,1212.9 1691.8,1212.5 1694.8,1212.3 C1697.8,1212.2 1701.2,1212.5 1704.1,1212.5 C1707.0,1212.5 1709.6,1212.4 1712.4,1212.2 C1715.1,1212.0 1717.8,1211.3 1720.5,1211.0 C1723.3,1210.8 1725.9,1210.5 1729.1,1210.7 C1732.3,1210.9 1736.2,1212.3 1739.7,1212.4 C1743.3,1212.4 1746.6,1211.8 1750.2,1211.0 C1753.8,1210.3 1758.6,1207.3 1761.4,1207.9 C1764.2,1208.5 1764.8,1212.9 1766.9,1214.4 C1769.0,1216.0 1771.8,1215.8 1774.0,1217.1 C1776.1,1218.4 1777.6,1221.0 1779.8,1222.2 C1781.9,1223.5 1784.5,1223.9 1786.8,1224.9 C1789.1,1225.8 1791.6,1226.7 1793.7,1227.8 C1795.8,1229.0 1799.6,1230.5 1799.4,1231.8 C1799.2,1233.2 1794.8,1234.7 1792.6,1236.0 C1790.3,1237.4 1788.1,1238.8 1786.0,1240.0 C1784.0,1241.2 1781.7,1241.8 1780.4,1243.3 C1779.1,1244.7 1779.1,1246.9 1778.3,1248.8 C1777.5,1250.7 1776.4,1252.8 1775.7,1254.7 C1774.9,1256.6 1773.4,1258.3 1773.7,1260.2 C1774.0,1262.0 1776.3,1263.7 1777.3,1265.6 C1778.3,1267.4 1778.9,1269.4 1779.8,1271.2 C1780.8,1273.1 1781.5,1274.9 1783.0,1276.7 C1784.4,1278.4 1787.1,1280.0 1788.5,1281.7 C1789.8,1283.4 1789.8,1284.9 1791.2,1286.6 C1792.6,1288.3 1796.1,1290.0 1797.0,1292.0 C1797.9,1294.0 1796.7,1296.4 1796.4,1298.6 C1796.0,1300.7 1795.8,1303.1 1795.1,1305.1 C1794.4,1307.1 1793.0,1308.6 1792.2,1310.6 C1791.4,1312.6 1791.0,1314.9 1790.5,1317.2 C1790.1,1319.5 1790.4,1322.5 1789.7,1324.6 C1788.9,1326.7 1787.6,1327.9 1786.2,1329.8 C1784.7,1331.6 1783.3,1334.3 1781.1,1335.6 C1779.0,1336.9 1775.5,1336.4 1773.3,1337.8 C1771.1,1339.2 1769.6,1342.6 1767.9,1343.9 C1766.1,1345.2 1764.1,1344.4 1762.6,1345.8 C1761.1,1347.1 1760.3,1350.1 1759.0,1351.9 C1757.7,1353.7 1757.0,1355.7 1754.8,1356.6 C1752.7,1357.4 1749.0,1356.7 1746.2,1357.0 C1743.3,1357.4 1740.5,1357.9 1737.7,1358.6 C1734.8,1359.2 1731.6,1360.7 1729.1,1360.7 C1726.5,1360.8 1724.6,1359.9 1722.5,1358.9 C1720.5,1357.8 1718.8,1355.2 1716.7,1354.2 C1714.7,1353.3 1711.8,1354.5 1710.1,1353.2 C1708.4,1351.8 1707.8,1348.1 1706.4,1346.2 C1705.1,1344.3 1703.2,1343.5 1701.8,1341.7 C1700.3,1339.9 1698.9,1337.6 1697.9,1335.6 C1697.0,1333.5 1696.7,1331.2 1695.9,1329.3 C1695.0,1327.4 1693.5,1326.2 1692.8,1324.1 C1692.2,1321.9 1692.7,1318.8 1692.0,1316.6 C1691.4,1314.3 1689.9,1312.5 1688.9,1310.4 C1688.0,1308.3 1687.7,1305.9 1686.4,1304.0 C1685.1,1302.0 1682.0,1300.7 1681.1,1298.6 C1680.1,1296.6 1681.0,1294.0 1680.7,1291.8 C1680.4,1289.6 1680.1,1287.5 1679.2,1285.4 C1678.3,1283.3 1676.2,1281.7 1675.3,1279.2 C1674.4,1276.7 1674.1,1273.5 1673.7,1270.6 C1673.3,1267.8 1673.0,1264.9 1672.7,1262.1 C1672.4,1259.3 1671.8,1256.1 1671.7,1253.6 C1671.6,1251.2 1672.1,1249.5 1672.1,1247.3 C1672.2,1245.1 1671.8,1242.7 1672.1,1240.6 C1672.3,1238.6 1673.3,1237.1 1673.6,1234.9 C1673.9,1232.8 1673.5,1229.8 1674.0,1227.5 C1674.4,1225.3 1675.5,1223.6 1676.0,1221.4 C1676.6,1219.3 1675.5,1215.8 1677.2,1214.4Z" fill="#e4780c" stroke="#a8561c" stroke-opacity="0.45" stroke-width="2.5" filter="url(#soft)"/>
<path d="M2134.6,1214.3 C2137.1,1213.3 2141.6,1214.2 2145.1,1213.4 C2148.6,1212.6 2152.0,1210.6 2155.5,1209.4 C2159.0,1208.3 2162.6,1207.0 2166.0,1206.4 C2169.4,1205.8 2172.4,1206.5 2175.8,1205.8 C2179.2,1205.0 2183.2,1202.7 2186.6,1201.8 C2190.0,1200.9 2194.2,1199.6 2196.3,1200.5 C2198.3,1201.4 2198.0,1205.1 2199.0,1207.1 C2200.0,1209.2 2201.2,1211.0 2202.4,1212.8 C2203.6,1214.6 2205.4,1214.7 2206.2,1218.0 C2207.0,1221.2 2206.3,1227.9 2207.0,1232.2 C2207.6,1236.6 2209.5,1239.8 2210.2,1244.0 C2211.0,1248.1 2211.1,1252.9 2211.5,1257.3 C2211.8,1261.7 2211.9,1266.0 2212.4,1270.3 C2213.0,1274.6 2214.1,1278.6 2214.7,1282.9 C2215.4,1287.1 2216.0,1291.8 2216.1,1295.7 C2216.2,1299.5 2215.5,1302.4 2215.4,1305.9 C2215.3,1309.4 2215.8,1313.1 2215.6,1316.7 C2215.5,1320.2 2215.7,1323.9 2214.7,1327.1 C2213.7,1330.4 2210.7,1332.8 2209.7,1336.3 C2208.6,1339.8 2209.3,1344.5 2208.4,1348.1 C2207.6,1351.6 2205.9,1354.7 2204.4,1357.6 C2203.0,1360.4 2201.6,1362.9 2199.9,1365.2 C2198.3,1367.5 2196.3,1369.5 2194.4,1371.6 C2192.6,1373.6 2191.1,1376.2 2188.8,1377.5 C2186.6,1378.7 2183.3,1378.2 2180.8,1379.2 C2178.3,1380.3 2176.2,1382.6 2173.8,1383.9 C2171.3,1385.1 2168.6,1386.7 2166.0,1386.7 C2163.4,1386.7 2160.6,1384.9 2158.0,1384.0 C2155.4,1383.0 2152.8,1381.2 2150.2,1380.8 C2147.6,1380.4 2144.8,1382.3 2142.4,1381.5 C2140.1,1380.8 2138.3,1377.9 2136.2,1376.2 C2134.1,1374.5 2132.0,1373.0 2129.9,1371.4 C2127.8,1369.7 2125.3,1368.1 2123.5,1366.4 C2121.8,1364.8 2120.7,1363.1 2119.3,1361.3 C2118.0,1359.4 2116.7,1357.4 2115.5,1355.4 C2114.2,1353.4 2113.4,1351.1 2111.9,1349.3 C2110.4,1347.5 2108.2,1346.2 2106.5,1344.5 C2104.8,1342.9 2103.2,1341.0 2101.4,1339.3 C2099.6,1337.7 2097.3,1336.8 2095.7,1334.7 C2094.1,1332.6 2093.3,1329.3 2091.8,1326.7 C2090.4,1324.1 2088.4,1321.8 2087.1,1319.2 C2085.8,1316.6 2084.7,1313.7 2083.9,1311.1 C2083.0,1308.5 2082.8,1306.0 2082.1,1303.4 C2081.3,1300.9 2080.0,1298.3 2079.4,1295.7 C2078.7,1293.1 2078.3,1290.5 2078.4,1287.8 C2078.5,1285.2 2079.3,1282.5 2080.0,1280.0 C2080.8,1277.4 2081.7,1274.8 2082.8,1272.3 C2083.9,1269.9 2085.3,1267.4 2086.6,1265.3 C2087.9,1263.2 2089.2,1261.5 2090.9,1259.8 C2092.5,1258.1 2094.5,1256.6 2096.3,1254.9 C2098.1,1253.3 2100.1,1251.7 2101.5,1249.9 C2102.8,1248.1 2103.4,1246.1 2104.3,1244.1 C2105.2,1242.1 2106.1,1240.3 2106.8,1238.1 C2107.5,1235.9 2107.8,1232.7 2108.6,1231.0 C2109.5,1229.2 2110.6,1228.6 2111.8,1227.5 C2112.9,1226.5 2114.1,1225.7 2115.3,1224.7 C2116.5,1223.8 2117.3,1222.5 2118.8,1221.8 C2120.4,1221.1 2122.6,1220.8 2124.5,1220.4 C2126.3,1220.0 2128.3,1220.6 2130.0,1219.6 C2131.7,1218.6 2132.1,1215.3 2134.6,1214.3Z" fill="#8a6a50" fill-opacity="0.35" transform="translate(0,3)" filter="url(#soft2)"/>
<path d="M2134.6,1214.3 C2137.1,1213.3 2141.6,1214.2 2145.1,1213.4 C2148.6,1212.6 2152.0,1210.6 2155.5,1209.4 C2159.0,1208.3 2162.6,1207.0 2166.0,1206.4 C2169.4,1205.8 2172.4,1206.5 2175.8,1205.8 C2179.2,1205.0 2183.2,1202.7 2186.6,1201.8 C2190.0,1200.9 2194.2,1199.6 2196.3,1200.5 C2198.3,1201.4 2198.0,1205.1 2199.0,1207.1 C2200.0,1209.2 2201.2,1211.0 2202.4,1212.8 C2203.6,1214.6 2205.4,1214.7 2206.2,1218.0 C2207.0,1221.2 2206.3,1227.9 2207.0,1232.2 C2207.6,1236.6 2209.5,1239.8 2210.2,1244.0 C2211.0,1248.1 2211.1,1252.9 2211.5,1257.3 C2211.8,1261.7 2211.9,1266.0 2212.4,1270.3 C2213.0,1274.6 2214.1,1278.6 2214.7,1282.9 C2215.4,1287.1 2216.0,1291.8 2216.1,1295.7 C2216.2,1299.5 2215.5,1302.4 2215.4,1305.9 C2215.3,1309.4 2215.8,1313.1 2215.6,1316.7 C2215.5,1320.2 2215.7,1323.9 2214.7,1327.1 C2213.7,1330.4 2210.7,1332.8 2209.7,1336.3 C2208.6,1339.8 2209.3,1344.5 2208.4,1348.1 C2207.6,1351.6 2205.9,1354.7 2204.4,1357.6 C2203.0,1360.4 2201.6,1362.9 2199.9,1365.2 C2198.3,1367.5 2196.3,1369.5 2194.4,1371.6 C2192.6,1373.6 2191.1,1376.2 2188.8,1377.5 C2186.6,1378.7 2183.3,1378.2 2180.8,1379.2 C2178.3,1380.3 2176.2,1382.6 2173.8,1383.9 C2171.3,1385.1 2168.6,1386.7 2166.0,1386.7 C2163.4,1386.7 2160.6,1384.9 2158.0,1384.0 C2155.4,1383.0 2152.8,1381.2 2150.2,1380.8 C2147.6,1380.4 2144.8,1382.3 2142.4,1381.5 C2140.1,1380.8 2138.3,1377.9 2136.2,1376.2 C2134.1,1374.5 2132.0,1373.0 2129.9,1371.4 C2127.8,1369.7 2125.3,1368.1 2123.5,1366.4 C2121.8,1364.8 2120.7,1363.1 2119.3,1361.3 C2118.0,1359.4 2116.7,1357.4 2115.5,1355.4 C2114.2,1353.4 2113.4,1351.1 2111.9,1349.3 C2110.4,1347.5 2108.2,1346.2 2106.5,1344.5 C2104.8,1342.9 2103.2,1341.0 2101.4,1339.3 C2099.6,1337.7 2097.3,1336.8 2095.7,1334.7 C2094.1,1332.6 2093.3,1329.3 2091.8,1326.7 C2090.4,1324.1 2088.4,1321.8 2087.1,1319.2 C2085.8,1316.6 2084.7,1313.7 2083.9,1311.1 C2083.0,1308.5 2082.8,1306.0 2082.1,1303.4 C2081.3,1300.9 2080.0,1298.3 2079.4,1295.7 C2078.7,1293.1 2078.3,1290.5 2078.4,1287.8 C2078.5,1285.2 2079.3,1282.5 2080.0,1280.0 C2080.8,1277.4 2081.7,1274.8 2082.8,1272.3 C2083.9,1269.9 2085.3,1267.4 2086.6,1265.3 C2087.9,1263.2 2089.2,1261.5 2090.9,1259.8 C2092.5,1258.1 2094.5,1256.6 2096.3,1254.9 C2098.1,1253.3 2100.1,1251.7 2101.5,1249.9 C2102.8,1248.1 2103.4,1246.1 2104.3,1244.1 C2105.2,1242.1 2106.1,1240.3 2106.8,1238.1 C2107.5,1235.9 2107.8,1232.7 2108.6,1231.0 C2109.5,1229.2 2110.6,1228.6 2111.8,1227.5 C2112.9,1226.5 2114.1,1225.7 2115.3,1224.7 C2116.5,1223.8 2117.3,1222.5 2118.8,1221.8 C2120.4,1221.1 2122.6,1220.8 2124.5,1220.4 C2126.3,1220.0 2128.3,1220.6 2130.0,1219.6 C2131.7,1218.6 2132.1,1215.3 2134.6,1214.3Z" fill="#e2780c" stroke="#a8561c" stroke-opacity="0.45" stroke-width="2.5" filter="url(#soft)"/>
<path d="M1682,1287 C1697,1284 1712,1282 1723,1273 C1731,1262 1736,1248 1745,1243 C1752,1240 1758,1241 1763,1244" fill="none" stroke="#a5500c" stroke-opacity="0.5" stroke-width="4" filter="url(#soft)"/>
<ellipse cx="1348" cy="1206" rx="4" ry="3.5" fill="#7a4010" fill-opacity="0.7" filter="url(#soft)"/>
<text transform="translate(476.08,1125.60) scale(0.7631,1)" font-size="36.8" fill="#121212" stroke="#121212" stroke-width="1.18"><tspan>5%</tspan></text>
<text transform="translate(526.95,1125.60) scale(1.0621,1)" font-size="36.8" fill="#121212" stroke="#121212" stroke-width="0.85"><tspan>C</tspan><tspan font-size="23.5" dy="8">3</tspan><tspan dy="-8">N</tspan><tspan font-size="23.5" dy="8">4</tspan><tspan dy="-8">/FAPbBr</tspan><tspan font-size="23.5" dy="8">3</tspan></text>
<text transform="translate(854.93,1125.60) scale(0.8569,1)" font-size="36.8" fill="#121212" stroke="#121212" stroke-width="1.05"><tspan>10%</tspan></text>
<text transform="translate(928.73,1125.60) scale(1.0714,1)" font-size="36.8" fill="#121212" stroke="#121212" stroke-width="0.84"><tspan>C</tspan><tspan font-size="23.5" dy="8">3</tspan><tspan dy="-8">N</tspan><tspan font-size="23.5" dy="8">4</tspan><tspan dy="-8">/FAPbBr</tspan><tspan font-size="23.5" dy="8">3</tspan></text>
<text transform="translate(1234.75,1125.60) scale(0.8400,1)" font-size="36.8" fill="#121212" stroke="#121212" stroke-width="1.07"><tspan>20%</tspan></text>
<text transform="translate(1307.73,1125.60) scale(1.0701,1)" font-size="36.8" fill="#121212" stroke="#121212" stroke-width="0.84"><tspan>C</tspan><tspan font-size="23.5" dy="8">3</tspan><tspan dy="-8">N</tspan><tspan font-size="23.5" dy="8">4</tspan><tspan dy="-8">/FAPbBr</tspan><tspan font-size="23.5" dy="8">3</tspan></text>
<text transform="translate(1616.13,1128.40) scale(0.8501,1)" font-size="36.8" fill="#121212" stroke="#121212" stroke-width="1.06"><tspan>30%</tspan></text>
<text transform="translate(1689.03,1128.40) scale(1.0683,1)" font-size="36.8" fill="#121212" stroke="#121212" stroke-width="0.84"><tspan>C</tspan><tspan font-size="23.5" dy="8">3</tspan><tspan dy="-8">N</tspan><tspan font-size="23.5" dy="8">4</tspan><tspan dy="-8">/FAPbBr</tspan><tspan font-size="23.5" dy="8">3</tspan></text>
<g fill="#121212" stroke="#121212">
<text transform="translate(220.06,1134.50) scale(0.8904,1)" font-size="57" stroke-width="1.24">C</text>
<text transform="translate(256.37,1147.30) scale(1.0299,1)" font-size="37" stroke-width="1.07">3</text>
<text transform="translate(276.74,1134.50) scale(1.1392,1)" font-size="57" stroke-width="0.97">N</text>
<text transform="translate(322.26,1147.30) scale(1.0062,1)" font-size="37" stroke-width="1.09">4</text>
</g>
<text transform="translate(2038.45,1133.90) scale(1.0019,1)" font-size="50.2" fill="#121212" stroke="#121212" stroke-width="1.10"><tspan>FAPbBr</tspan><tspan font-size="32.4" dy="11">3</tspan></text>
</svg>
</body></html>
